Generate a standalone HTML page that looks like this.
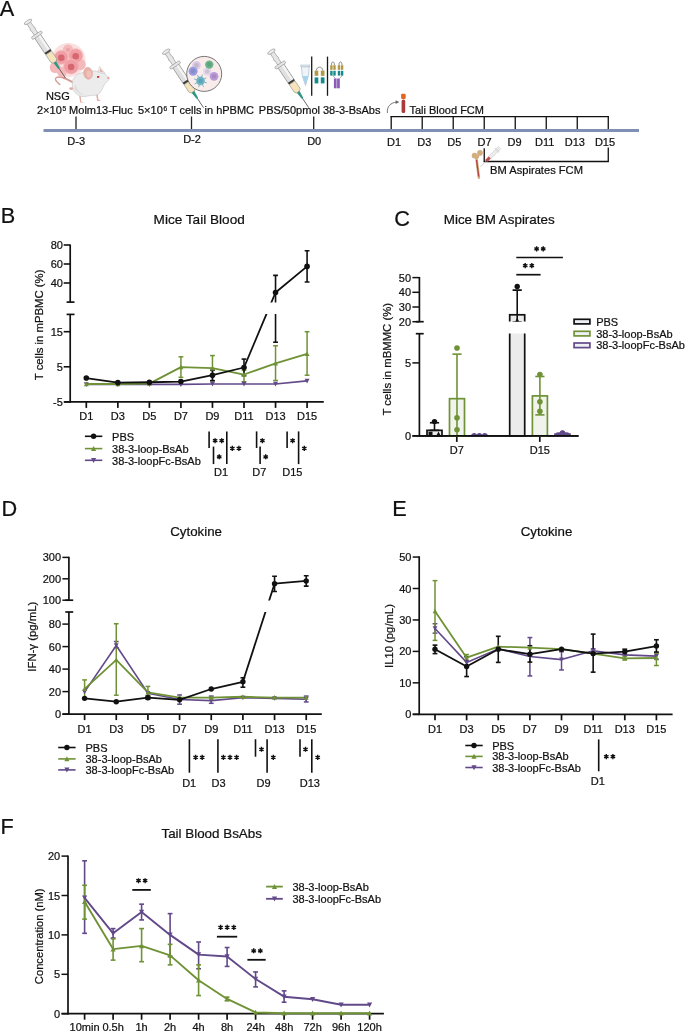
<!DOCTYPE html><html><head><meta charset="utf-8"><style>html,body{margin:0;padding:0;background:#fff;overflow:hidden;}svg{display:block;will-change:transform;} text{font-family:"Liberation Sans", sans-serif;}</style></head><body>
<svg width="685" height="1032" viewBox="0 0 685 1032">
<rect width="685" height="1032" fill="#fff"/>
<text x="-0.3" y="15.6" font-size="21.7" text-anchor="start" fill="#111111" stroke="#111111" stroke-width="0.22">A</text>
<line x1="43.5" y1="130.5" x2="639" y2="130.5" stroke="#8090b4" stroke-width="3"/>
<line x1="76" y1="116.5" x2="76" y2="129" stroke="#222" stroke-width="1.3"/>
<line x1="191.5" y1="116.5" x2="191.5" y2="129" stroke="#222" stroke-width="1.3"/>
<line x1="313.7" y1="116.5" x2="313.7" y2="129" stroke="#222" stroke-width="1.3"/>
<text x="76.2" y="144.6" font-size="11" text-anchor="middle" fill="#111111" stroke="#111111" stroke-width="0.22">D-3</text>
<text x="192" y="143.4" font-size="11" text-anchor="middle" fill="#111111" stroke="#111111" stroke-width="0.22">D-2</text>
<text x="314.2" y="145.3" font-size="11" text-anchor="middle" fill="#111111" stroke="#111111" stroke-width="0.22">D0</text>
<text x="57.8" y="99.7" font-size="11" text-anchor="middle" fill="#111111" stroke="#111111" stroke-width="0.22">NSG</text>
<text x="37" y="114.1" font-size="11" fill="#111111" stroke="#111" stroke-width="0.22">2×10<tspan font-size="6.6" dx="0.6" dy="-3.0">5</tspan><tspan dy="3.0"> Molm13-Fluc</tspan></text>
<text x="138" y="114.1" font-size="11" fill="#111111" stroke="#111" stroke-width="0.22">5×10<tspan font-size="6.6" dx="0.6" dy="-3.0">6</tspan><tspan dy="3.0"> T cells in hPBMC</tspan></text>
<text x="258.8" y="114.1" font-size="11" text-anchor="start" fill="#111111" stroke="#111111" stroke-width="0.22">PBS/50pmol 38-3-BsAbs</text>
<line x1="390.6" y1="116.7" x2="608.87" y2="116.7" stroke="#111111" stroke-width="1.3"/>
<line x1="391.2" y1="116.1" x2="391.2" y2="129" stroke="#111111" stroke-width="1.3"/>
<line x1="422.21" y1="116.1" x2="422.21" y2="129" stroke="#111111" stroke-width="1.3"/>
<line x1="453.22" y1="116.1" x2="453.22" y2="129" stroke="#111111" stroke-width="1.3"/>
<line x1="484.23" y1="116.1" x2="484.23" y2="129" stroke="#111111" stroke-width="1.3"/>
<line x1="515.24" y1="116.1" x2="515.24" y2="129" stroke="#111111" stroke-width="1.3"/>
<line x1="546.25" y1="116.1" x2="546.25" y2="129" stroke="#111111" stroke-width="1.3"/>
<line x1="577.26" y1="116.1" x2="577.26" y2="129" stroke="#111111" stroke-width="1.3"/>
<line x1="608.27" y1="116.1" x2="608.27" y2="129" stroke="#111111" stroke-width="1.3"/>
<text x="394.1" y="145.9" font-size="11" text-anchor="middle" fill="#111111" stroke="#111111" stroke-width="0.22">D1</text>
<text x="424.23" y="145.9" font-size="11" text-anchor="middle" fill="#111111" stroke="#111111" stroke-width="0.22">D3</text>
<text x="454.36" y="145.9" font-size="11" text-anchor="middle" fill="#111111" stroke="#111111" stroke-width="0.22">D5</text>
<text x="484.49" y="145.9" font-size="11" text-anchor="middle" fill="#111111" stroke="#111111" stroke-width="0.22">D7</text>
<text x="514.62" y="145.9" font-size="11" text-anchor="middle" fill="#111111" stroke="#111111" stroke-width="0.22">D9</text>
<text x="544.75" y="145.9" font-size="11" text-anchor="middle" fill="#111111" stroke="#111111" stroke-width="0.22">D11</text>
<text x="574.88" y="145.9" font-size="11" text-anchor="middle" fill="#111111" stroke="#111111" stroke-width="0.22">D13</text>
<text x="605.01" y="145.9" font-size="11" text-anchor="middle" fill="#111111" stroke="#111111" stroke-width="0.22">D15</text>
<text x="409.4" y="113.5" font-size="11" text-anchor="start" fill="#111111" stroke="#111111" stroke-width="0.22">Tali Blood FCM</text>
<line x1="484.23" y1="148.2" x2="484.23" y2="161.5" stroke="#111111" stroke-width="1.3"/>
<line x1="483.63" y1="161.5" x2="608.87" y2="161.5" stroke="#111111" stroke-width="1.3"/>
<line x1="608.27" y1="147.5" x2="608.27" y2="161.5" stroke="#111111" stroke-width="1.3"/>
<text x="490.1" y="173.6" font-size="11.15" text-anchor="start" fill="#111111" stroke="#111111" stroke-width="0.22">BM Aspirates FCM</text>
<rect x="401.6" y="99.6" width="3.6" height="13.4" rx="1.6" fill="#a93b3b"/>
<rect x="401.1" y="93.7" width="4.6" height="5.2" rx="1.2" fill="#e2661f"/>
<path d="M387.4 113 C386.8 106.5 390.5 102.6 396.8 102.2" fill="none" stroke="#666" stroke-width="0.9"/>
<path d="M395.6 100.2 L399.3 102.1 L395.7 104.0 Z" fill="#666"/>
<path d="M476.3 157.5 L478.9 177.6" stroke="#d3ad7f" stroke-width="2.6" stroke-linecap="round"/>
<path d="M476.6 160 L478.7 176.5" stroke="#b0453f" stroke-width="1.3"/>
<circle cx="474.6" cy="155.6" r="2.9" fill="#d3ad7f"/>
<circle cx="480.0" cy="152.9" r="2.8" fill="#d3ad7f"/>
<circle cx="477.0" cy="156.5" r="2.2" fill="#d3ad7f"/>
<g transform="translate(499.6 147.6) rotate(135)">
<rect x="0" y="-1.6" width="14" height="3.2" fill="#ececec" stroke="#c4c4c4" stroke-width="0.5"/>
<rect x="3" y="-2.6" width="1.2" height="5.2" fill="#e4e4e4" stroke="#c4c4c4" stroke-width="0.4"/>
<rect x="14" y="-1.5" width="5" height="3" fill="#bf4a4a"/>
<line x1="19" y1="0" x2="27" y2="0" stroke="#b8b8b8" stroke-width="0.7"/>
</g>
<g>
<circle cx="68.5" cy="60" r="17" fill="#fbe0e0"/>
<circle cx="68" cy="49.7" r="5.2" fill="#f4b9bb"/>
<circle cx="55.2" cy="67.5" r="5.5" fill="#f4b9bb"/>
<circle cx="80.3" cy="64.5" r="5.5" fill="#f4b9bb"/>
<circle cx="62" cy="72" r="5" fill="#f4b9bb"/>
<circle cx="61.3" cy="57.4" r="6.8" fill="#f09ea3" stroke="#f6b5b7" stroke-width="0.8"/>
<circle cx="61.3" cy="57.8" r="3.3" fill="#d6666f"/>
<circle cx="75.7" cy="55.8" r="7.0" fill="#f09ea3" stroke="#f6b5b7" stroke-width="0.8"/>
<circle cx="75.7" cy="56.199999999999996" r="3.3" fill="#d6666f"/>
<circle cx="71.1" cy="66.6" r="7.4" fill="#f09ea3" stroke="#f6b5b7" stroke-width="0.8"/>
<circle cx="71.1" cy="67.0" r="3.3" fill="#d6666f"/>
<circle cx="68" cy="49.7" r="2" fill="#e8a3a8"/>
</g>
<g>
<path d="M73.5 82.5 C69 80.5 66.5 79 63.5 77.8" fill="none" stroke="#d59d96" stroke-width="2" stroke-linecap="round"/>
<path d="M63.5 77.8 C60 76.8 56.5 76.5 55.5 78.5 C54.8 80.5 57.5 82.5 59.8 84.5" fill="none" stroke="#d59d96" stroke-width="1.4" stroke-linecap="round"/>
<ellipse cx="71.4" cy="88.6" rx="2.3" ry="1.4" fill="#e3aaa3"/>
<path d="M97.6 93 L98.4 99.6 L101.2 100.8 L97.2 100.9 L96.2 95 Z" fill="#e3aaa3"/>
<path d="M80.6 95.5 L81.2 101.4 L84.5 102.4 L80.2 102.6 L79.2 96 Z" fill="#e3aaa3"/>
<path d="M72.3 84.1 C72.5 78 76 74.5 80 73.3 C84 72 90 70.6 94.2 71 C99 71 104 73 106.5 75.5 L108.9 77.9 C109 79.5 108.5 80.5 107.5 81 C106 82.5 104.5 84 103.5 86 C102.5 89 101 92 98.6 94.3 C96 95.5 93 95.5 91.3 95.4 C87 96.2 84 96.8 81.8 96.5 C78 95.5 75 93.5 73.8 90.7 C72.8 88.5 72.3 86.5 72.3 84.1 Z" fill="#ececec" stroke="#c4c4c4" stroke-width="0.6"/>
<path d="M74 88 C76 92 80 95 86 95.5 C80 93.5 77 90 75.5 84 Z" fill="#dedede"/>
<path d="M98.2 72.4 L99.4 66.2 L105.4 73.6 Z" fill="#f2f2f2" stroke="#c4c4c4" stroke-width="0.5"/>
<path d="M99.6 71.8 L100.2 68.2 L103.6 72.6 Z" fill="#e6b0a8"/>
<ellipse cx="88.1" cy="73.3" rx="4.5" ry="6.0" fill="#e8b1a9" stroke="#dba39b" stroke-width="0.4" transform="rotate(-8 88.1 73.3)"/>
<ellipse cx="89.0" cy="74" rx="2.4" ry="3.6" fill="#efc2bb" transform="rotate(-8 89 74)"/>
<ellipse cx="98.2" cy="76.9" rx="1.3" ry="0.9" fill="#c3262e" transform="rotate(-20 98.2 76.9)"/>
<circle cx="108.3" cy="77.9" r="1.2" fill="#e8a9a4"/>
</g>
<g transform="translate(28 21.9) rotate(56.3) scale(1)">
<line x1="54" y1="0" x2="67.3" y2="0" stroke="#4a4a4a" stroke-width="0.75"/>
<path d="M47.5 -1.7 L56 -0.9 L56 0.9 L47.5 1.7 Z" fill="#2f9882"/>
<path d="M0.5 -2.1 L7 -2.1 L8.5 -2.8 L10 -2.1 L17 -2.1 L17 2.1 L10 2.1 L8.5 2.8 L7 2.1 L0.5 2.1 Z" fill="#e6e6e6" stroke="#8a8a8a" stroke-width="0.55"/>
<rect x="16.5" y="-3.5" width="19.5" height="7" fill="#e0e0e0" stroke="#7a7a7a" stroke-width="0.6"/>
<rect x="17" y="-2.9" width="18.5" height="2.2" fill="#f4f4f4"/>
<rect x="35" y="-3.5" width="2.3" height="7" fill="#3c3c3c"/>
<path d="M37.3 -3.5 L46.3 -3.5 L48.3 -2.0 L48.3 2.0 L46.3 3.5 L37.3 3.5 Z" fill="#f4e3bb" stroke="#8a8a8a" stroke-width="0.55"/>
<rect x="14.6" y="-6.0" width="2.8" height="12" rx="1.2" fill="#e6e6e6" stroke="#8a8a8a" stroke-width="0.55"/>
<ellipse cx="0" cy="0" rx="1.6" ry="4.3" fill="#ececec" stroke="#8a8a8a" stroke-width="0.55"/>
</g>
<g transform="translate(166.2 51.7) rotate(56.3) scale(1)">
<line x1="54" y1="0" x2="67.3" y2="0" stroke="#4a4a4a" stroke-width="0.75"/>
<path d="M47.5 -1.7 L56 -0.9 L56 0.9 L47.5 1.7 Z" fill="#2f9882"/>
<path d="M0.5 -2.1 L7 -2.1 L8.5 -2.8 L10 -2.1 L17 -2.1 L17 2.1 L10 2.1 L8.5 2.8 L7 2.1 L0.5 2.1 Z" fill="#e6e6e6" stroke="#8a8a8a" stroke-width="0.55"/>
<rect x="16.5" y="-3.5" width="19.5" height="7" fill="#e0e0e0" stroke="#7a7a7a" stroke-width="0.6"/>
<rect x="17" y="-2.9" width="18.5" height="2.2" fill="#f4f4f4"/>
<rect x="35" y="-3.5" width="2.3" height="7" fill="#3c3c3c"/>
<path d="M37.3 -3.5 L46.3 -3.5 L48.3 -2.0 L48.3 2.0 L46.3 3.5 L37.3 3.5 Z" fill="#f4e3bb" stroke="#8a8a8a" stroke-width="0.55"/>
<rect x="14.6" y="-6.0" width="2.8" height="12" rx="1.2" fill="#e6e6e6" stroke="#8a8a8a" stroke-width="0.55"/>
<ellipse cx="0" cy="0" rx="1.6" ry="4.3" fill="#ececec" stroke="#8a8a8a" stroke-width="0.55"/>
</g>
<g transform="translate(271.4 51.7) rotate(56.3) scale(1)">
<line x1="54" y1="0" x2="67.3" y2="0" stroke="#4a4a4a" stroke-width="0.75"/>
<path d="M47.5 -1.7 L56 -0.9 L56 0.9 L47.5 1.7 Z" fill="#2f9882"/>
<path d="M0.5 -2.1 L7 -2.1 L8.5 -2.8 L10 -2.1 L17 -2.1 L17 2.1 L10 2.1 L8.5 2.8 L7 2.1 L0.5 2.1 Z" fill="#e6e6e6" stroke="#8a8a8a" stroke-width="0.55"/>
<rect x="16.5" y="-3.5" width="19.5" height="7" fill="#e0e0e0" stroke="#7a7a7a" stroke-width="0.6"/>
<rect x="17" y="-2.9" width="18.5" height="2.2" fill="#f4f4f4"/>
<rect x="35" y="-3.5" width="2.3" height="7" fill="#3c3c3c"/>
<path d="M37.3 -3.5 L46.3 -3.5 L48.3 -2.0 L48.3 2.0 L46.3 3.5 L37.3 3.5 Z" fill="#f4e3bb" stroke="#8a8a8a" stroke-width="0.55"/>
<rect x="14.6" y="-6.0" width="2.8" height="12" rx="1.2" fill="#e6e6e6" stroke="#8a8a8a" stroke-width="0.55"/>
<ellipse cx="0" cy="0" rx="1.6" ry="4.3" fill="#ececec" stroke="#8a8a8a" stroke-width="0.55"/>
</g>
<circle cx="204.2" cy="73.9" r="17.5" fill="#fbecec" stroke="#555" stroke-width="0.8"/>
<circle cx="196.5" cy="65.3" r="4.3" fill="#dccbe6"/>
<circle cx="196.5" cy="65.3" r="2.365" fill="#000000" opacity="0.1" />
<circle cx="207.2" cy="71.5" r="4.2" fill="#e4d8ec"/>
<circle cx="207.2" cy="71.5" r="2.3100000000000005" fill="#000000" opacity="0.1" />
<circle cx="193.1" cy="71.2" r="4.5" fill="#979de0"/>
<circle cx="193.1" cy="71.2" r="2.475" fill="#000000" opacity="0.1" />
<circle cx="209.3" cy="64.6" r="4.2" fill="#6ab589"/>
<circle cx="209.3" cy="64.6" r="2.3100000000000005" fill="#000000" opacity="0.1" />
<circle cx="214.0" cy="76.3" r="4.4" fill="#bb9bd8"/>
<circle cx="214.0" cy="76.3" r="2.4200000000000004" fill="#000000" opacity="0.1" />
<g stroke="#4f93a8" stroke-width="0.7">
<line x1="204.32" y1="82.08" x2="206.81" y2="82.85"/>
<line x1="202.37" y1="84.44" x2="203.58" y2="86.74"/>
<line x1="199.32" y1="84.72" x2="198.55" y2="87.21"/>
<line x1="196.96" y1="82.77" x2="194.66" y2="83.98"/>
<line x1="196.68" y1="79.72" x2="194.19" y2="78.95"/>
<line x1="198.63" y1="77.36" x2="197.42" y2="75.06"/>
<line x1="201.68" y1="77.08" x2="202.45" y2="74.59"/>
<line x1="204.04" y1="79.03" x2="206.34" y2="77.82"/>
</g>
<circle cx="200.5" cy="80.9" r="4.3" fill="#6db4c4"/>
<circle cx="200.5" cy="80.9" r="2.2" fill="#5aa3b5"/>
<path d="M301.4 66.8 L309.2 66.8 L308.6 75 L305.5 85.5 L302.2 75 Z" fill="#eef4f8" stroke="#9fb4c0" stroke-width="0.6"/>
<path d="M301.9 76 L308.4 76 L305.5 85 Z" fill="#a9d3ea"/>
<rect x="300.8" y="65.0" width="9" height="1.8" fill="#e4eef4" stroke="#9fb4c0" stroke-width="0.5"/>
<line x1="311.7" y1="56.6" x2="311.7" y2="95.8" stroke="#1a1a1a" stroke-width="1.3"/>
<line x1="327.5" y1="56.6" x2="327.5" y2="95.8" stroke="#1a1a1a" stroke-width="1.3"/>
<path d="M316.4 70.6 C316.4 66 322.8 66 322.8 70.6" fill="none" stroke="#444" stroke-width="0.6"/>
<rect x="314.6" y="70.6" width="3.7" height="5.2" fill="#b19a45"/>
<rect x="314.6" y="77.4" width="3.7" height="6.0" fill="#16898a"/>
<rect x="320.8" y="70.6" width="3.7" height="5.2" fill="#b19a45"/>
<rect x="320.8" y="77.4" width="3.7" height="6.0" fill="#16898a"/>
<path d="M331.4 65.2 C331.4 60.7 334.4 60.7 334.4 65.2" fill="none" stroke="#444" stroke-width="0.6"/>
<rect x="330.2" y="65.2" width="2.4" height="4.6" fill="#b19a45"/>
<rect x="330.2" y="70.8" width="2.4" height="4.8" fill="#16898a"/>
<rect x="333.3" y="65.2" width="2.4" height="4.6" fill="#b19a45"/>
<rect x="333.3" y="70.8" width="2.4" height="4.8" fill="#16898a"/>
<path d="M339 65.2 C339 60.7 342 60.7 342 65.2" fill="none" stroke="#444" stroke-width="0.6"/>
<rect x="337.8" y="65.2" width="2.4" height="4.6" fill="#b19a45"/>
<rect x="337.8" y="70.8" width="2.4" height="4.8" fill="#16898a"/>
<rect x="340.9" y="65.2" width="2.4" height="4.6" fill="#b19a45"/>
<rect x="340.9" y="70.8" width="2.4" height="4.8" fill="#16898a"/>
<path d="M333 75.6 L335.2 78.5 M342.2 75.6 L339.4 78.5" stroke="#555" stroke-width="0.5"/>
<rect x="333.9" y="78.5" width="2.7" height="9.8" fill="#8a5cb8"/>
<rect x="337.1" y="78.5" width="2.7" height="9.8" fill="#8a5cb8"/>
<text x="0.8" y="222.8" font-size="21.7" text-anchor="start" fill="#111111" stroke="#111111" stroke-width="0.22">B</text>
<text x="199.2" y="224.4" font-size="13.6" text-anchor="middle" fill="#111111" stroke="#111111" stroke-width="0.22">Mice Tail Blood</text>
<line x1="70.2" y1="244.5" x2="70.2" y2="302.2" stroke="#111111" stroke-width="1.7"/>
<line x1="70.2" y1="314.3" x2="70.2" y2="402.7" stroke="#111111" stroke-width="1.7"/>
<line x1="66.6" y1="302.1" x2="74.5" y2="302.1" stroke="#111111" stroke-width="1.7"/>
<line x1="66.6" y1="314.4" x2="74.5" y2="314.4" stroke="#111111" stroke-width="1.7"/>
<line x1="63.7" y1="245" x2="70.2" y2="245" stroke="#111111" stroke-width="1.6"/>
<text x="62.9" y="248.8" font-size="11" text-anchor="end" fill="#111111" stroke="#111111" stroke-width="0.22">80</text>
<line x1="63.7" y1="264" x2="70.2" y2="264" stroke="#111111" stroke-width="1.6"/>
<text x="62.9" y="267.8" font-size="11" text-anchor="end" fill="#111111" stroke="#111111" stroke-width="0.22">60</text>
<line x1="63.7" y1="283" x2="70.2" y2="283" stroke="#111111" stroke-width="1.6"/>
<text x="62.9" y="286.8" font-size="11" text-anchor="end" fill="#111111" stroke="#111111" stroke-width="0.22">40</text>
<line x1="63.7" y1="331.7" x2="70.2" y2="331.7" stroke="#111111" stroke-width="1.6"/>
<text x="62.9" y="335.5" font-size="11" text-anchor="end" fill="#111111" stroke="#111111" stroke-width="0.22">15</text>
<line x1="63.7" y1="366.8" x2="70.2" y2="366.8" stroke="#111111" stroke-width="1.6"/>
<text x="62.9" y="370.6" font-size="11" text-anchor="end" fill="#111111" stroke="#111111" stroke-width="0.22">5</text>
<line x1="63.7" y1="401.9" x2="70.2" y2="401.9" stroke="#111111" stroke-width="1.6"/>
<text x="62.9" y="405.7" font-size="11" text-anchor="end" fill="#111111" stroke="#111111" stroke-width="0.22">-5</text>
<line x1="64.2" y1="401.9" x2="323.8" y2="401.9" stroke="#111111" stroke-width="1.7"/>
<line x1="86.3" y1="401.9" x2="86.3" y2="407.9" stroke="#111111" stroke-width="1.7"/>
<text x="86.3" y="420.2" font-size="11" text-anchor="middle" fill="#111111" stroke="#111111" stroke-width="0.22">D1</text>
<line x1="117.84" y1="401.9" x2="117.84" y2="407.9" stroke="#111111" stroke-width="1.7"/>
<text x="117.84" y="420.2" font-size="11" text-anchor="middle" fill="#111111" stroke="#111111" stroke-width="0.22">D3</text>
<line x1="149.38" y1="401.9" x2="149.38" y2="407.9" stroke="#111111" stroke-width="1.7"/>
<text x="149.38" y="420.2" font-size="11" text-anchor="middle" fill="#111111" stroke="#111111" stroke-width="0.22">D5</text>
<line x1="180.92" y1="401.9" x2="180.92" y2="407.9" stroke="#111111" stroke-width="1.7"/>
<text x="180.92" y="420.2" font-size="11" text-anchor="middle" fill="#111111" stroke="#111111" stroke-width="0.22">D7</text>
<line x1="212.46" y1="401.9" x2="212.46" y2="407.9" stroke="#111111" stroke-width="1.7"/>
<text x="212.46" y="420.2" font-size="11" text-anchor="middle" fill="#111111" stroke="#111111" stroke-width="0.22">D9</text>
<line x1="244" y1="401.9" x2="244" y2="407.9" stroke="#111111" stroke-width="1.7"/>
<text x="244" y="420.2" font-size="11" text-anchor="middle" fill="#111111" stroke="#111111" stroke-width="0.22">D11</text>
<line x1="275.54" y1="401.9" x2="275.54" y2="407.9" stroke="#111111" stroke-width="1.7"/>
<text x="275.54" y="420.2" font-size="11" text-anchor="middle" fill="#111111" stroke="#111111" stroke-width="0.22">D13</text>
<line x1="307.08" y1="401.9" x2="307.08" y2="407.9" stroke="#111111" stroke-width="1.7"/>
<text x="307.08" y="420.2" font-size="11" text-anchor="middle" fill="#111111" stroke="#111111" stroke-width="0.22">D15</text>
<text x="43.3" y="324.9" font-size="11.35" text-anchor="middle" fill="#111111" stroke="#111111" stroke-width="0.22" transform="rotate(-90 43.3 324.9)">T cells in mPBMC (%)</text>
<defs><clipPath id="bU"><rect x="71" y="230" width="260" height="72.5"/></clipPath><clipPath id="bL"><rect x="71" y="313.9" width="260" height="100"/></clipPath></defs>
<g clip-path="url(#bU)">
<line x1="180.92" y1="356.8" x2="180.92" y2="377.33" stroke="#6f9236" stroke-width="1.5"/>
<line x1="178.52" y1="356.8" x2="183.32" y2="356.8" stroke="#6f9236" stroke-width="1.5"/>
<line x1="178.52" y1="377.33" x2="183.32" y2="377.33" stroke="#6f9236" stroke-width="1.5"/>
<line x1="212.46" y1="355.57" x2="212.46" y2="380.84" stroke="#6f9236" stroke-width="1.5"/>
<line x1="210.06" y1="355.57" x2="214.86" y2="355.57" stroke="#6f9236" stroke-width="1.5"/>
<line x1="210.06" y1="380.84" x2="214.86" y2="380.84" stroke="#6f9236" stroke-width="1.5"/>
<line x1="244" y1="370.31" x2="244" y2="381.72" stroke="#6f9236" stroke-width="1.5"/>
<line x1="241.6" y1="370.31" x2="246.4" y2="370.31" stroke="#6f9236" stroke-width="1.5"/>
<line x1="241.6" y1="381.72" x2="246.4" y2="381.72" stroke="#6f9236" stroke-width="1.5"/>
<line x1="275.54" y1="345.74" x2="275.54" y2="380.49" stroke="#6f9236" stroke-width="1.5"/>
<line x1="273.14" y1="345.74" x2="277.94" y2="345.74" stroke="#6f9236" stroke-width="1.5"/>
<line x1="273.14" y1="380.49" x2="277.94" y2="380.49" stroke="#6f9236" stroke-width="1.5"/>
<line x1="307.08" y1="331.7" x2="307.08" y2="375.22" stroke="#6f9236" stroke-width="1.5"/>
<line x1="304.68" y1="331.7" x2="309.48" y2="331.7" stroke="#6f9236" stroke-width="1.5"/>
<line x1="304.68" y1="375.22" x2="309.48" y2="375.22" stroke="#6f9236" stroke-width="1.5"/>
<line x1="212.46" y1="370.31" x2="212.46" y2="380.66" stroke="#111111" stroke-width="1.6"/>
<line x1="210.06" y1="370.31" x2="214.86" y2="370.31" stroke="#111111" stroke-width="1.6"/>
<line x1="210.06" y1="380.66" x2="214.86" y2="380.66" stroke="#111111" stroke-width="1.6"/>
<line x1="244" y1="359.08" x2="244" y2="375.57" stroke="#111111" stroke-width="1.6"/>
<line x1="241.6" y1="359.08" x2="246.4" y2="359.08" stroke="#111111" stroke-width="1.6"/>
<line x1="241.6" y1="375.57" x2="246.4" y2="375.57" stroke="#111111" stroke-width="1.6"/>
<line x1="275.54" y1="275.4" x2="275.54" y2="342.23" stroke="#111111" stroke-width="1.6"/>
<line x1="273.14" y1="275.4" x2="277.94" y2="275.4" stroke="#111111" stroke-width="1.6"/>
<line x1="273.14" y1="342.23" x2="277.94" y2="342.23" stroke="#111111" stroke-width="1.6"/>
<line x1="307.08" y1="250.7" x2="307.08" y2="282.05" stroke="#111111" stroke-width="1.6"/>
<line x1="304.68" y1="250.7" x2="309.48" y2="250.7" stroke="#111111" stroke-width="1.6"/>
<line x1="304.68" y1="282.05" x2="309.48" y2="282.05" stroke="#111111" stroke-width="1.6"/>
<polyline points="86.3,384.35 117.84,384.35 149.38,384.35 180.92,384.35 212.46,384 244,384 275.54,384 307.08,380.84" fill="none" stroke="#62498a" stroke-width="1.6" stroke-linejoin="round"/>
<polyline points="86.3,384 117.84,384 149.38,383.65 180.92,367.15 212.46,368.2 244,374.52 275.54,363.29 307.08,353.81" fill="none" stroke="#6f9236" stroke-width="1.8" stroke-linejoin="round"/>
<polyline points="86.3,378.03 117.84,382.6 149.38,382.24 180.92,381.54 212.46,375.22 244,367.5 275.54,292.5 307.08,266.38" fill="none" stroke="#111111" stroke-width="1.8" stroke-linejoin="round"/>
<polygon points="86.3,386.95 83.83,382.14 88.77,382.14" fill="#62498a"/>
<polygon points="117.84,386.95 115.37,382.14 120.31,382.14" fill="#62498a"/>
<polygon points="149.38,386.95 146.91,382.14 151.85,382.14" fill="#62498a"/>
<polygon points="180.92,386.95 178.45,382.14 183.39,382.14" fill="#62498a"/>
<polygon points="212.46,386.6 209.99,381.79 214.93,381.79" fill="#62498a"/>
<polygon points="244,386.6 241.53,381.79 246.47,381.79" fill="#62498a"/>
<polygon points="275.54,386.6 273.07,381.79 278.01,381.79" fill="#62498a"/>
<polygon points="307.08,383.44 304.61,378.63 309.55,378.63" fill="#62498a"/>
<polygon points="86.3,381.4 83.83,386.21 88.77,386.21" fill="#6f9236"/>
<polygon points="117.84,381.4 115.37,386.21 120.31,386.21" fill="#6f9236"/>
<polygon points="149.38,381.05 146.91,385.86 151.85,385.86" fill="#6f9236"/>
<polygon points="180.92,364.55 178.45,369.36 183.39,369.36" fill="#6f9236"/>
<polygon points="212.46,365.6 209.99,370.41 214.93,370.41" fill="#6f9236"/>
<polygon points="244,371.92 241.53,376.73 246.47,376.73" fill="#6f9236"/>
<polygon points="275.54,360.69 273.07,365.5 278.01,365.5" fill="#6f9236"/>
<polygon points="307.08,351.21 304.61,356.02 309.55,356.02" fill="#6f9236"/>
<circle cx="86.3" cy="378.03" r="2.8" fill="#111111"/>
<circle cx="117.84" cy="382.6" r="2.8" fill="#111111"/>
<circle cx="149.38" cy="382.24" r="2.8" fill="#111111"/>
<circle cx="180.92" cy="381.54" r="2.8" fill="#111111"/>
<circle cx="212.46" cy="375.22" r="2.8" fill="#111111"/>
<circle cx="244" cy="367.5" r="2.8" fill="#111111"/>
<circle cx="275.54" cy="292.5" r="2.8" fill="#111111"/>
<circle cx="307.08" cy="266.38" r="2.8" fill="#111111"/>
</g>
<g clip-path="url(#bL)">
<line x1="180.92" y1="356.8" x2="180.92" y2="377.33" stroke="#6f9236" stroke-width="1.5"/>
<line x1="178.52" y1="356.8" x2="183.32" y2="356.8" stroke="#6f9236" stroke-width="1.5"/>
<line x1="178.52" y1="377.33" x2="183.32" y2="377.33" stroke="#6f9236" stroke-width="1.5"/>
<line x1="212.46" y1="355.57" x2="212.46" y2="380.84" stroke="#6f9236" stroke-width="1.5"/>
<line x1="210.06" y1="355.57" x2="214.86" y2="355.57" stroke="#6f9236" stroke-width="1.5"/>
<line x1="210.06" y1="380.84" x2="214.86" y2="380.84" stroke="#6f9236" stroke-width="1.5"/>
<line x1="244" y1="370.31" x2="244" y2="381.72" stroke="#6f9236" stroke-width="1.5"/>
<line x1="241.6" y1="370.31" x2="246.4" y2="370.31" stroke="#6f9236" stroke-width="1.5"/>
<line x1="241.6" y1="381.72" x2="246.4" y2="381.72" stroke="#6f9236" stroke-width="1.5"/>
<line x1="275.54" y1="345.74" x2="275.54" y2="380.49" stroke="#6f9236" stroke-width="1.5"/>
<line x1="273.14" y1="345.74" x2="277.94" y2="345.74" stroke="#6f9236" stroke-width="1.5"/>
<line x1="273.14" y1="380.49" x2="277.94" y2="380.49" stroke="#6f9236" stroke-width="1.5"/>
<line x1="307.08" y1="331.7" x2="307.08" y2="375.22" stroke="#6f9236" stroke-width="1.5"/>
<line x1="304.68" y1="331.7" x2="309.48" y2="331.7" stroke="#6f9236" stroke-width="1.5"/>
<line x1="304.68" y1="375.22" x2="309.48" y2="375.22" stroke="#6f9236" stroke-width="1.5"/>
<line x1="212.46" y1="370.31" x2="212.46" y2="380.66" stroke="#111111" stroke-width="1.6"/>
<line x1="210.06" y1="370.31" x2="214.86" y2="370.31" stroke="#111111" stroke-width="1.6"/>
<line x1="210.06" y1="380.66" x2="214.86" y2="380.66" stroke="#111111" stroke-width="1.6"/>
<line x1="244" y1="359.08" x2="244" y2="375.57" stroke="#111111" stroke-width="1.6"/>
<line x1="241.6" y1="359.08" x2="246.4" y2="359.08" stroke="#111111" stroke-width="1.6"/>
<line x1="241.6" y1="375.57" x2="246.4" y2="375.57" stroke="#111111" stroke-width="1.6"/>
<line x1="275.54" y1="275.4" x2="275.54" y2="342.23" stroke="#111111" stroke-width="1.6"/>
<line x1="273.14" y1="275.4" x2="277.94" y2="275.4" stroke="#111111" stroke-width="1.6"/>
<line x1="273.14" y1="342.23" x2="277.94" y2="342.23" stroke="#111111" stroke-width="1.6"/>
<line x1="307.08" y1="250.7" x2="307.08" y2="282.05" stroke="#111111" stroke-width="1.6"/>
<line x1="304.68" y1="250.7" x2="309.48" y2="250.7" stroke="#111111" stroke-width="1.6"/>
<line x1="304.68" y1="282.05" x2="309.48" y2="282.05" stroke="#111111" stroke-width="1.6"/>
<polyline points="86.3,384.35 117.84,384.35 149.38,384.35 180.92,384.35 212.46,384 244,384 275.54,384 307.08,380.84" fill="none" stroke="#62498a" stroke-width="1.6" stroke-linejoin="round"/>
<polyline points="86.3,384 117.84,384 149.38,383.65 180.92,367.15 212.46,368.2 244,374.52 275.54,363.29 307.08,353.81" fill="none" stroke="#6f9236" stroke-width="1.8" stroke-linejoin="round"/>
<polyline points="86.3,378.03 117.84,382.6 149.38,382.24 180.92,381.54 212.46,375.22 244,367.5 275.54,292.5 307.08,266.38" fill="none" stroke="#111111" stroke-width="1.8" stroke-linejoin="round"/>
<polygon points="86.3,386.95 83.83,382.14 88.77,382.14" fill="#62498a"/>
<polygon points="117.84,386.95 115.37,382.14 120.31,382.14" fill="#62498a"/>
<polygon points="149.38,386.95 146.91,382.14 151.85,382.14" fill="#62498a"/>
<polygon points="180.92,386.95 178.45,382.14 183.39,382.14" fill="#62498a"/>
<polygon points="212.46,386.6 209.99,381.79 214.93,381.79" fill="#62498a"/>
<polygon points="244,386.6 241.53,381.79 246.47,381.79" fill="#62498a"/>
<polygon points="275.54,386.6 273.07,381.79 278.01,381.79" fill="#62498a"/>
<polygon points="307.08,383.44 304.61,378.63 309.55,378.63" fill="#62498a"/>
<polygon points="86.3,381.4 83.83,386.21 88.77,386.21" fill="#6f9236"/>
<polygon points="117.84,381.4 115.37,386.21 120.31,386.21" fill="#6f9236"/>
<polygon points="149.38,381.05 146.91,385.86 151.85,385.86" fill="#6f9236"/>
<polygon points="180.92,364.55 178.45,369.36 183.39,369.36" fill="#6f9236"/>
<polygon points="212.46,365.6 209.99,370.41 214.93,370.41" fill="#6f9236"/>
<polygon points="244,371.92 241.53,376.73 246.47,376.73" fill="#6f9236"/>
<polygon points="275.54,360.69 273.07,365.5 278.01,365.5" fill="#6f9236"/>
<polygon points="307.08,351.21 304.61,356.02 309.55,356.02" fill="#6f9236"/>
<circle cx="86.3" cy="378.03" r="2.8" fill="#111111"/>
<circle cx="117.84" cy="382.6" r="2.8" fill="#111111"/>
<circle cx="149.38" cy="382.24" r="2.8" fill="#111111"/>
<circle cx="180.92" cy="381.54" r="2.8" fill="#111111"/>
<circle cx="212.46" cy="375.22" r="2.8" fill="#111111"/>
<circle cx="244" cy="367.5" r="2.8" fill="#111111"/>
<circle cx="275.54" cy="292.5" r="2.8" fill="#111111"/>
<circle cx="307.08" cy="266.38" r="2.8" fill="#111111"/>
</g>
<line x1="84.9" y1="436.3" x2="102.3" y2="436.3" stroke="#111111" stroke-width="1.6"/>
<circle cx="93.6" cy="436.3" r="2.7" fill="#111111"/>
<line x1="84.9" y1="448.6" x2="102.3" y2="448.6" stroke="#6f9236" stroke-width="1.6"/>
<polygon points="93.6,445.9 91.03,450.9 96.16,450.9" fill="#6f9236"/>
<line x1="84.9" y1="460.3" x2="102.3" y2="460.3" stroke="#62498a" stroke-width="1.6"/>
<polygon points="93.6,463 91.03,458 96.16,458" fill="#62498a"/>
<text x="112.1" y="441" font-size="11" text-anchor="start" fill="#111111" stroke="#111111" stroke-width="0.22">PBS</text>
<text x="112.1" y="453.2" font-size="11" text-anchor="start" fill="#111111" stroke="#111111" stroke-width="0.22">38-3-loop-BsAb</text>
<text x="112.1" y="464.9" font-size="11" text-anchor="start" fill="#111111" stroke="#111111" stroke-width="0.22">38-3-loopFc-BsAb</text>
<line x1="209.1" y1="431.4" x2="209.1" y2="448" stroke="#111111" stroke-width="1.6"/>
<line x1="213.5" y1="446.6" x2="213.5" y2="464.1" stroke="#111111" stroke-width="1.6"/>
<line x1="226.8" y1="431.4" x2="226.8" y2="464.1" stroke="#111111" stroke-width="1.6"/>
<path d="M215.1 438.15L215.1 443.25M212.89 439.43L217.31 441.97M217.31 439.43L212.89 441.97M221.7 438.15L221.7 443.25M219.49 439.43L223.91 441.97M223.91 439.43L219.49 441.97" stroke="#111111" stroke-width="1.4" stroke-linecap="butt"/>
<path d="M219.2 454.25L219.2 459.35M216.99 455.53L221.41 458.07M221.41 455.53L216.99 458.07" stroke="#111111" stroke-width="1.4" stroke-linecap="butt"/>
<path d="M232.3 445.85L232.3 450.95M230.09 447.12L234.51 449.67M234.51 447.12L230.09 449.67M238.9 445.85L238.9 450.95M236.69 447.12L241.11 449.67M241.11 447.12L236.69 449.67" stroke="#111111" stroke-width="1.4" stroke-linecap="butt"/>
<line x1="256.6" y1="431.4" x2="256.6" y2="448" stroke="#111111" stroke-width="1.6"/>
<line x1="260.1" y1="446.6" x2="260.1" y2="464.1" stroke="#111111" stroke-width="1.6"/>
<path d="M262.4 438.15L262.4 443.25M260.19 439.43L264.61 441.97M264.61 439.43L260.19 441.97" stroke="#111111" stroke-width="1.4" stroke-linecap="butt"/>
<path d="M265.7 454.25L265.7 459.35M263.49 455.53L267.91 458.07M267.91 455.53L263.49 458.07" stroke="#111111" stroke-width="1.4" stroke-linecap="butt"/>
<line x1="287.1" y1="431.4" x2="287.1" y2="448" stroke="#111111" stroke-width="1.6"/>
<line x1="298.6" y1="431.4" x2="298.6" y2="464.1" stroke="#111111" stroke-width="1.6"/>
<path d="M292.6 438.15L292.6 443.25M290.39 439.43L294.81 441.97M294.81 439.43L290.39 441.97" stroke="#111111" stroke-width="1.4" stroke-linecap="butt"/>
<path d="M304.3 445.85L304.3 450.95M302.09 447.12L306.51 449.67M306.51 447.12L302.09 449.67" stroke="#111111" stroke-width="1.4" stroke-linecap="butt"/>
<text x="221" y="475.8" font-size="11" text-anchor="middle" fill="#111111" stroke="#111111" stroke-width="0.22">D1</text>
<text x="259.4" y="475.8" font-size="11" text-anchor="middle" fill="#111111" stroke="#111111" stroke-width="0.22">D7</text>
<text x="292.4" y="475.8" font-size="11" text-anchor="middle" fill="#111111" stroke="#111111" stroke-width="0.22">D15</text>
<text x="394.3" y="225.6" font-size="21.7" text-anchor="start" fill="#111111" stroke="#111111" stroke-width="0.22">C</text>
<text x="499.2" y="224" font-size="13.4" text-anchor="middle" fill="#111111" stroke="#111111" stroke-width="0.22">Mice BM Aspirates</text>
<line x1="419.4" y1="277" x2="419.4" y2="321.8" stroke="#111111" stroke-width="1.7"/>
<line x1="419.4" y1="333.6" x2="419.4" y2="436.7" stroke="#111111" stroke-width="1.7"/>
<line x1="415.8" y1="321.7" x2="423.7" y2="321.7" stroke="#111111" stroke-width="1.7"/>
<line x1="415.8" y1="333.7" x2="423.7" y2="333.7" stroke="#111111" stroke-width="1.7"/>
<line x1="412.4" y1="277.6" x2="419.4" y2="277.6" stroke="#111111" stroke-width="1.5"/>
<text x="411.1" y="281.6" font-size="11" text-anchor="end" fill="#111111" stroke="#111111" stroke-width="0.22">50</text>
<line x1="412.4" y1="292.3" x2="419.4" y2="292.3" stroke="#111111" stroke-width="1.5"/>
<text x="411.1" y="296.3" font-size="11" text-anchor="end" fill="#111111" stroke="#111111" stroke-width="0.22">40</text>
<line x1="412.4" y1="307" x2="419.4" y2="307" stroke="#111111" stroke-width="1.5"/>
<text x="411.1" y="311" font-size="11" text-anchor="end" fill="#111111" stroke="#111111" stroke-width="0.22">30</text>
<line x1="412.4" y1="321.7" x2="419.4" y2="321.7" stroke="#111111" stroke-width="1.5"/>
<text x="411.1" y="325.7" font-size="11" text-anchor="end" fill="#111111" stroke="#111111" stroke-width="0.22">20</text>
<line x1="412.4" y1="362.9" x2="419.4" y2="362.9" stroke="#111111" stroke-width="1.5"/>
<text x="411.1" y="366.9" font-size="11" text-anchor="end" fill="#111111" stroke="#111111" stroke-width="0.22">5</text>
<line x1="412.4" y1="435.9" x2="419.4" y2="435.9" stroke="#111111" stroke-width="1.5"/>
<text x="411.1" y="439.9" font-size="11" text-anchor="end" fill="#111111" stroke="#111111" stroke-width="0.22">0</text>
<line x1="412.4" y1="435.9" x2="578.5" y2="435.9" stroke="#111111" stroke-width="1.7"/>
<line x1="456.8" y1="435.9" x2="456.8" y2="441.9" stroke="#111111" stroke-width="1.7"/>
<text x="456.8" y="454.3" font-size="11" text-anchor="middle" fill="#111111" stroke="#111111" stroke-width="0.22">D7</text>
<line x1="539.8" y1="435.9" x2="539.8" y2="441.9" stroke="#111111" stroke-width="1.7"/>
<text x="539.8" y="454.3" font-size="11" text-anchor="middle" fill="#111111" stroke="#111111" stroke-width="0.22">D15</text>
<text x="391.4" y="359.2" font-size="11.35" text-anchor="middle" fill="#111111" stroke="#111111" stroke-width="0.22" transform="rotate(-90 391.4 359.2)">T cells in mBMMC (%)</text>
<rect x="427" y="430.35" width="15" height="5.55" fill="#ececec" stroke="#111111" stroke-width="1.7"/>
<rect x="449.5" y="398.67" width="15" height="37.23" fill="#f1f4ec" stroke="#6f9236" stroke-width="1.7"/>
<rect x="471.9" y="435.46" width="15" height="0.44" fill="#f3f1f7" stroke="#62498a" stroke-width="1.7"/>
<defs><clipPath id="cU"><rect x="421" y="250" width="170" height="71.5"/></clipPath><clipPath id="cL"><rect x="421" y="333.4" width="170" height="120"/></clipPath></defs>
<g clip-path="url(#cU)">
<rect x="509.7" y="314.79" width="15" height="121.11" fill="#ececec" stroke="#111111" stroke-width="1.7"/>
<line x1="517.2" y1="290.09" x2="517.2" y2="321.7" stroke="#111111" stroke-width="1.6"/>
<line x1="512.6" y1="290.09" x2="521.8" y2="290.09" stroke="#111111" stroke-width="1.6"/>
<line x1="512.6" y1="321.7" x2="521.8" y2="321.7" stroke="#111111" stroke-width="1.6"/>
<circle cx="517.2" cy="286.57" r="2.7" fill="#111111"/>
<polygon points="517.2,317.82 514.63,322.82 519.77,322.82" fill="#111111"/>
</g>
<g clip-path="url(#cL)">
<rect x="509.7" y="314.79" width="15" height="121.11" fill="#ececec" stroke="#111111" stroke-width="1.7"/>
<line x1="517.2" y1="290.09" x2="517.2" y2="321.7" stroke="#111111" stroke-width="1.6"/>
<line x1="512.6" y1="290.09" x2="521.8" y2="290.09" stroke="#111111" stroke-width="1.6"/>
<line x1="512.6" y1="321.7" x2="521.8" y2="321.7" stroke="#111111" stroke-width="1.6"/>
<circle cx="517.2" cy="286.57" r="2.7" fill="#111111"/>
<polygon points="517.2,317.82 514.63,322.82 519.77,322.82" fill="#111111"/>
</g>
<rect x="532.4" y="395.9" width="15" height="40" fill="#f1f4ec" stroke="#6f9236" stroke-width="1.7"/>
<rect x="555" y="434.15" width="15" height="1.75" fill="#f3f1f7" stroke="#62498a" stroke-width="1.7"/>
<line x1="434.5" y1="422.76" x2="434.5" y2="430.35" stroke="#111111" stroke-width="1.6"/>
<line x1="429.9" y1="422.76" x2="439.1" y2="422.76" stroke="#111111" stroke-width="1.6"/>
<line x1="429.9" y1="430.35" x2="439.1" y2="430.35" stroke="#111111" stroke-width="1.6"/>
<circle cx="434.5" cy="421.59" r="2.7" fill="#111111"/>
<rect x="428.5" y="431.71" width="4" height="4" fill="#111111"/>
<polygon points="438.5,431.51 436.41,435.58 440.59,435.58" fill="#111111"/>
<line x1="457" y1="354.14" x2="457" y2="435.9" stroke="#6f9236" stroke-width="1.6"/>
<line x1="452.4" y1="354.14" x2="461.6" y2="354.14" stroke="#6f9236" stroke-width="1.6"/>
<line x1="452.4" y1="435.9" x2="461.6" y2="435.9" stroke="#6f9236" stroke-width="1.6"/>
<circle cx="457" cy="348.01" r="2.8" fill="#6f9236"/>
<circle cx="457" cy="417.8" r="2.8" fill="#6f9236"/>
<circle cx="457" cy="429.77" r="2.8" fill="#6f9236"/>
<line x1="539.9" y1="376.48" x2="539.9" y2="414.88" stroke="#6f9236" stroke-width="1.6"/>
<line x1="535.3" y1="376.48" x2="544.5" y2="376.48" stroke="#6f9236" stroke-width="1.6"/>
<line x1="535.3" y1="414.88" x2="544.5" y2="414.88" stroke="#6f9236" stroke-width="1.6"/>
<circle cx="539.9" cy="374.58" r="2.8" fill="#6f9236"/>
<circle cx="539.9" cy="401.74" r="2.8" fill="#6f9236"/>
<circle cx="539.9" cy="411.37" r="2.8" fill="#6f9236"/>
<defs><clipPath id="cA"><rect x="420" y="380" width="160" height="55.9"/></clipPath></defs>
<g clip-path="url(#cA)">
<circle cx="474.2" cy="435.6" r="2.7" fill="#62498a"/>
<circle cx="479.4" cy="435.6" r="2.7" fill="#62498a"/>
<circle cx="484.8" cy="435.6" r="2.7" fill="#62498a"/>
<circle cx="558" cy="435" r="2.7" fill="#62498a"/>
<circle cx="562.5" cy="433" r="2.7" fill="#62498a"/>
<circle cx="567" cy="435" r="2.7" fill="#62498a"/>
<path d="M555 436 L560.5 431.5 L562.5 430.2 L564.5 431.5 L570 436 Z" fill="#62498a"/>
</g>
<line x1="419.4" y1="435.9" x2="578.5" y2="435.9" stroke="#111111" stroke-width="1.7"/>
<line x1="516.3" y1="274.7" x2="540.6" y2="274.7" stroke="#111111" stroke-width="1.7"/>
<line x1="516.3" y1="257.5" x2="562.9" y2="257.5" stroke="#111111" stroke-width="1.7"/>
<path d="M525.2 263.05L525.2 268.15M522.99 264.33L527.41 266.88M527.41 264.33L522.99 266.88M531.8 263.05L531.8 268.15M529.59 264.33L534.01 266.88M534.01 264.33L529.59 266.88" stroke="#111111" stroke-width="1.4" stroke-linecap="butt"/>
<path d="M536.6 246.35L536.6 251.45M534.39 247.62L538.81 250.18M538.81 247.62L534.39 250.18M543.2 246.35L543.2 251.45M540.99 247.62L545.41 250.18M545.41 247.62L540.99 250.18" stroke="#111111" stroke-width="1.4" stroke-linecap="butt"/>
<rect x="574.1" y="319.3" width="15.8" height="4.6" fill="#eef0f6" stroke="#111111" stroke-width="1.7"/>
<text x="596.2" y="325.6" font-size="11" text-anchor="start" fill="#111111" stroke="#111111" stroke-width="0.22">PBS</text>
<rect x="574.1" y="331.3" width="15.8" height="4.6" fill="#eef0f6" stroke="#6f9236" stroke-width="1.7"/>
<text x="596.2" y="337.6" font-size="11" text-anchor="start" fill="#111111" stroke="#111111" stroke-width="0.22">38-3-loop-BsAb</text>
<rect x="574.1" y="343" width="15.8" height="4.6" fill="#eef0f6" stroke="#62498a" stroke-width="1.7"/>
<text x="596.2" y="349.3" font-size="11" text-anchor="start" fill="#111111" stroke="#111111" stroke-width="0.22">38-3-loopFc-BsAb</text>
<text x="1.5" y="515.8" font-size="21.7" text-anchor="start" fill="#111111" stroke="#111111" stroke-width="0.22">D</text>
<text x="196.1" y="536.2" font-size="13.3" text-anchor="middle" fill="#111111" stroke="#111111" stroke-width="0.22">Cytokine</text>
<line x1="68.9" y1="556.8" x2="68.9" y2="600.3" stroke="#111111" stroke-width="1.7"/>
<line x1="68.9" y1="611.9" x2="68.9" y2="714.9" stroke="#111111" stroke-width="1.7"/>
<line x1="65.3" y1="600.2" x2="73.2" y2="600.2" stroke="#111111" stroke-width="1.7"/>
<line x1="65.3" y1="612" x2="73.2" y2="612" stroke="#111111" stroke-width="1.7"/>
<line x1="62.4" y1="557.4" x2="68.9" y2="557.4" stroke="#111111" stroke-width="1.5"/>
<text x="61.1" y="561.4" font-size="11" text-anchor="end" fill="#111111" stroke="#111111" stroke-width="0.22">300</text>
<line x1="62.4" y1="578.8" x2="68.9" y2="578.8" stroke="#111111" stroke-width="1.5"/>
<text x="61.1" y="582.8" font-size="11" text-anchor="end" fill="#111111" stroke="#111111" stroke-width="0.22">200</text>
<line x1="62.4" y1="600.2" x2="68.9" y2="600.2" stroke="#111111" stroke-width="1.5"/>
<text x="61.1" y="604.2" font-size="11" text-anchor="end" fill="#111111" stroke="#111111" stroke-width="0.22">100</text>
<line x1="62.4" y1="624.1" x2="68.9" y2="624.1" stroke="#111111" stroke-width="1.5"/>
<text x="61.1" y="628.1" font-size="11" text-anchor="end" fill="#111111" stroke="#111111" stroke-width="0.22">80</text>
<line x1="62.4" y1="646.6" x2="68.9" y2="646.6" stroke="#111111" stroke-width="1.5"/>
<text x="61.1" y="650.6" font-size="11" text-anchor="end" fill="#111111" stroke="#111111" stroke-width="0.22">60</text>
<line x1="62.4" y1="669.1" x2="68.9" y2="669.1" stroke="#111111" stroke-width="1.5"/>
<text x="61.1" y="673.1" font-size="11" text-anchor="end" fill="#111111" stroke="#111111" stroke-width="0.22">40</text>
<line x1="62.4" y1="691.6" x2="68.9" y2="691.6" stroke="#111111" stroke-width="1.5"/>
<text x="61.1" y="695.6" font-size="11" text-anchor="end" fill="#111111" stroke="#111111" stroke-width="0.22">20</text>
<line x1="62.4" y1="714.1" x2="68.9" y2="714.1" stroke="#111111" stroke-width="1.5"/>
<text x="61.1" y="718.1" font-size="11" text-anchor="end" fill="#111111" stroke="#111111" stroke-width="0.22">0</text>
<line x1="62.4" y1="714.1" x2="321.8" y2="714.1" stroke="#111111" stroke-width="1.7"/>
<line x1="84.6" y1="714.1" x2="84.6" y2="720.1" stroke="#111111" stroke-width="1.7"/>
<text x="84.6" y="732.6" font-size="11" text-anchor="middle" fill="#111111" stroke="#111111" stroke-width="0.22">D1</text>
<line x1="116.26" y1="714.1" x2="116.26" y2="720.1" stroke="#111111" stroke-width="1.7"/>
<text x="116.26" y="732.6" font-size="11" text-anchor="middle" fill="#111111" stroke="#111111" stroke-width="0.22">D3</text>
<line x1="147.92" y1="714.1" x2="147.92" y2="720.1" stroke="#111111" stroke-width="1.7"/>
<text x="147.92" y="732.6" font-size="11" text-anchor="middle" fill="#111111" stroke="#111111" stroke-width="0.22">D5</text>
<line x1="179.58" y1="714.1" x2="179.58" y2="720.1" stroke="#111111" stroke-width="1.7"/>
<text x="179.58" y="732.6" font-size="11" text-anchor="middle" fill="#111111" stroke="#111111" stroke-width="0.22">D7</text>
<line x1="211.24" y1="714.1" x2="211.24" y2="720.1" stroke="#111111" stroke-width="1.7"/>
<text x="211.24" y="732.6" font-size="11" text-anchor="middle" fill="#111111" stroke="#111111" stroke-width="0.22">D9</text>
<line x1="242.9" y1="714.1" x2="242.9" y2="720.1" stroke="#111111" stroke-width="1.7"/>
<text x="242.9" y="732.6" font-size="11" text-anchor="middle" fill="#111111" stroke="#111111" stroke-width="0.22">D11</text>
<line x1="274.56" y1="714.1" x2="274.56" y2="720.1" stroke="#111111" stroke-width="1.7"/>
<text x="274.56" y="732.6" font-size="11" text-anchor="middle" fill="#111111" stroke="#111111" stroke-width="0.22">D13</text>
<line x1="306.22" y1="714.1" x2="306.22" y2="720.1" stroke="#111111" stroke-width="1.7"/>
<text x="306.22" y="732.6" font-size="11" text-anchor="middle" fill="#111111" stroke="#111111" stroke-width="0.22">D15</text>
<text x="36.1" y="636.7" font-size="11.35" text-anchor="middle" fill="#111111" stroke="#111111" stroke-width="0.22" transform="rotate(-90 36.1 636.7)">IFN-γ (pg/mL)</text>
<defs><clipPath id="dU"><rect x="70" y="540" width="260" height="60.4"/></clipPath><clipPath id="dL"><rect x="70" y="611.9" width="260" height="103"/></clipPath></defs>
<g clip-path="url(#dU)">
<line x1="116.26" y1="641.54" x2="116.26" y2="647.73" stroke="#62498a" stroke-width="1.5"/>
<line x1="113.86" y1="641.54" x2="118.66" y2="641.54" stroke="#62498a" stroke-width="1.5"/>
<line x1="113.86" y1="647.73" x2="118.66" y2="647.73" stroke="#62498a" stroke-width="1.5"/>
<line x1="179.58" y1="694.98" x2="179.58" y2="704.2" stroke="#62498a" stroke-width="1.5"/>
<line x1="177.18" y1="694.98" x2="181.98" y2="694.98" stroke="#62498a" stroke-width="1.5"/>
<line x1="177.18" y1="704.2" x2="181.98" y2="704.2" stroke="#62498a" stroke-width="1.5"/>
<line x1="211.24" y1="696.1" x2="211.24" y2="703.3" stroke="#62498a" stroke-width="1.5"/>
<line x1="208.84" y1="696.1" x2="213.64" y2="696.1" stroke="#62498a" stroke-width="1.5"/>
<line x1="208.84" y1="703.3" x2="213.64" y2="703.3" stroke="#62498a" stroke-width="1.5"/>
<line x1="306.22" y1="696.1" x2="306.22" y2="701.95" stroke="#62498a" stroke-width="1.5"/>
<line x1="303.82" y1="696.1" x2="308.62" y2="696.1" stroke="#62498a" stroke-width="1.5"/>
<line x1="303.82" y1="701.95" x2="308.62" y2="701.95" stroke="#62498a" stroke-width="1.5"/>
<line x1="84.6" y1="679.9" x2="84.6" y2="697.79" stroke="#6f9236" stroke-width="1.5"/>
<line x1="82.2" y1="679.9" x2="87" y2="679.9" stroke="#6f9236" stroke-width="1.5"/>
<line x1="82.2" y1="697.79" x2="87" y2="697.79" stroke="#6f9236" stroke-width="1.5"/>
<line x1="116.26" y1="623.76" x2="116.26" y2="695.2" stroke="#6f9236" stroke-width="1.5"/>
<line x1="113.86" y1="623.76" x2="118.66" y2="623.76" stroke="#6f9236" stroke-width="1.5"/>
<line x1="113.86" y1="695.2" x2="118.66" y2="695.2" stroke="#6f9236" stroke-width="1.5"/>
<line x1="147.92" y1="686.43" x2="147.92" y2="695.54" stroke="#6f9236" stroke-width="1.5"/>
<line x1="145.52" y1="686.43" x2="150.32" y2="686.43" stroke="#6f9236" stroke-width="1.5"/>
<line x1="145.52" y1="695.54" x2="150.32" y2="695.54" stroke="#6f9236" stroke-width="1.5"/>
<line x1="147.92" y1="696.33" x2="147.92" y2="699.25" stroke="#111111" stroke-width="1.6"/>
<line x1="145.52" y1="696.33" x2="150.32" y2="696.33" stroke="#111111" stroke-width="1.6"/>
<line x1="145.52" y1="699.25" x2="150.32" y2="699.25" stroke="#111111" stroke-width="1.6"/>
<line x1="242.9" y1="677.76" x2="242.9" y2="687.21" stroke="#111111" stroke-width="1.6"/>
<line x1="240.5" y1="677.76" x2="245.3" y2="677.76" stroke="#111111" stroke-width="1.6"/>
<line x1="240.5" y1="687.21" x2="245.3" y2="687.21" stroke="#111111" stroke-width="1.6"/>
<line x1="274.56" y1="576.23" x2="274.56" y2="591.43" stroke="#111111" stroke-width="1.6"/>
<line x1="272.16" y1="576.23" x2="276.96" y2="576.23" stroke="#111111" stroke-width="1.6"/>
<line x1="272.16" y1="591.43" x2="276.96" y2="591.43" stroke="#111111" stroke-width="1.6"/>
<line x1="306.22" y1="575.8" x2="306.22" y2="586.08" stroke="#111111" stroke-width="1.6"/>
<line x1="303.82" y1="575.8" x2="308.62" y2="575.8" stroke="#111111" stroke-width="1.6"/>
<line x1="303.82" y1="586.08" x2="308.62" y2="586.08" stroke="#111111" stroke-width="1.6"/>
<polyline points="84.6,691.83 116.26,645.48 147.92,693.18 179.58,699.48 211.24,700.6 242.9,697.79 274.56,698.35 306.22,699.25" fill="none" stroke="#62498a" stroke-width="1.6" stroke-linejoin="round"/>
<polyline points="84.6,688.79 116.26,659.88 147.92,692.39 179.58,697.56 211.24,697.56 242.9,696.77 274.56,697.56 306.22,697.56" fill="none" stroke="#6f9236" stroke-width="1.8" stroke-linejoin="round"/>
<polyline points="84.6,698.35 116.26,701.73 147.92,697.68 179.58,699.81 211.24,689.01 242.9,681.81 274.56,583.72 306.22,580.94" fill="none" stroke="#111111" stroke-width="1.8" stroke-linejoin="round"/>
<polygon points="84.6,694.33 82.22,689.7 86.97,689.7" fill="#62498a"/>
<polygon points="116.26,647.98 113.88,643.35 118.63,643.35" fill="#62498a"/>
<polygon points="147.92,695.68 145.54,691.05 150.29,691.05" fill="#62498a"/>
<polygon points="179.58,701.98 177.2,697.35 181.95,697.35" fill="#62498a"/>
<polygon points="211.24,703.1 208.87,698.48 213.62,698.48" fill="#62498a"/>
<polygon points="242.9,700.29 240.53,695.66 245.28,695.66" fill="#62498a"/>
<polygon points="274.56,700.85 272.19,696.23 276.94,696.23" fill="#62498a"/>
<polygon points="306.22,701.75 303.85,697.12 308.6,697.12" fill="#62498a"/>
<polygon points="84.6,686.29 82.22,690.91 86.97,690.91" fill="#6f9236"/>
<polygon points="116.26,657.38 113.88,662 118.63,662" fill="#6f9236"/>
<polygon points="147.92,689.89 145.54,694.51 150.29,694.51" fill="#6f9236"/>
<polygon points="179.58,695.06 177.2,699.69 181.95,699.69" fill="#6f9236"/>
<polygon points="211.24,695.06 208.87,699.69 213.62,699.69" fill="#6f9236"/>
<polygon points="242.9,694.27 240.53,698.9 245.28,698.9" fill="#6f9236"/>
<polygon points="274.56,695.06 272.19,699.69 276.94,699.69" fill="#6f9236"/>
<polygon points="306.22,695.06 303.85,699.69 308.6,699.69" fill="#6f9236"/>
<circle cx="84.6" cy="698.35" r="2.7" fill="#111111"/>
<circle cx="116.26" cy="701.73" r="2.7" fill="#111111"/>
<circle cx="147.92" cy="697.68" r="2.7" fill="#111111"/>
<circle cx="179.58" cy="699.81" r="2.7" fill="#111111"/>
<circle cx="211.24" cy="689.01" r="2.7" fill="#111111"/>
<circle cx="242.9" cy="681.81" r="2.7" fill="#111111"/>
<circle cx="274.56" cy="583.72" r="2.7" fill="#111111"/>
<circle cx="306.22" cy="580.94" r="2.7" fill="#111111"/>
</g>
<g clip-path="url(#dL)">
<line x1="116.26" y1="641.54" x2="116.26" y2="647.73" stroke="#62498a" stroke-width="1.5"/>
<line x1="113.86" y1="641.54" x2="118.66" y2="641.54" stroke="#62498a" stroke-width="1.5"/>
<line x1="113.86" y1="647.73" x2="118.66" y2="647.73" stroke="#62498a" stroke-width="1.5"/>
<line x1="179.58" y1="694.98" x2="179.58" y2="704.2" stroke="#62498a" stroke-width="1.5"/>
<line x1="177.18" y1="694.98" x2="181.98" y2="694.98" stroke="#62498a" stroke-width="1.5"/>
<line x1="177.18" y1="704.2" x2="181.98" y2="704.2" stroke="#62498a" stroke-width="1.5"/>
<line x1="211.24" y1="696.1" x2="211.24" y2="703.3" stroke="#62498a" stroke-width="1.5"/>
<line x1="208.84" y1="696.1" x2="213.64" y2="696.1" stroke="#62498a" stroke-width="1.5"/>
<line x1="208.84" y1="703.3" x2="213.64" y2="703.3" stroke="#62498a" stroke-width="1.5"/>
<line x1="306.22" y1="696.1" x2="306.22" y2="701.95" stroke="#62498a" stroke-width="1.5"/>
<line x1="303.82" y1="696.1" x2="308.62" y2="696.1" stroke="#62498a" stroke-width="1.5"/>
<line x1="303.82" y1="701.95" x2="308.62" y2="701.95" stroke="#62498a" stroke-width="1.5"/>
<line x1="84.6" y1="679.9" x2="84.6" y2="697.79" stroke="#6f9236" stroke-width="1.5"/>
<line x1="82.2" y1="679.9" x2="87" y2="679.9" stroke="#6f9236" stroke-width="1.5"/>
<line x1="82.2" y1="697.79" x2="87" y2="697.79" stroke="#6f9236" stroke-width="1.5"/>
<line x1="116.26" y1="623.76" x2="116.26" y2="695.2" stroke="#6f9236" stroke-width="1.5"/>
<line x1="113.86" y1="623.76" x2="118.66" y2="623.76" stroke="#6f9236" stroke-width="1.5"/>
<line x1="113.86" y1="695.2" x2="118.66" y2="695.2" stroke="#6f9236" stroke-width="1.5"/>
<line x1="147.92" y1="686.43" x2="147.92" y2="695.54" stroke="#6f9236" stroke-width="1.5"/>
<line x1="145.52" y1="686.43" x2="150.32" y2="686.43" stroke="#6f9236" stroke-width="1.5"/>
<line x1="145.52" y1="695.54" x2="150.32" y2="695.54" stroke="#6f9236" stroke-width="1.5"/>
<line x1="147.92" y1="696.33" x2="147.92" y2="699.25" stroke="#111111" stroke-width="1.6"/>
<line x1="145.52" y1="696.33" x2="150.32" y2="696.33" stroke="#111111" stroke-width="1.6"/>
<line x1="145.52" y1="699.25" x2="150.32" y2="699.25" stroke="#111111" stroke-width="1.6"/>
<line x1="242.9" y1="677.76" x2="242.9" y2="687.21" stroke="#111111" stroke-width="1.6"/>
<line x1="240.5" y1="677.76" x2="245.3" y2="677.76" stroke="#111111" stroke-width="1.6"/>
<line x1="240.5" y1="687.21" x2="245.3" y2="687.21" stroke="#111111" stroke-width="1.6"/>
<line x1="274.56" y1="576.23" x2="274.56" y2="591.43" stroke="#111111" stroke-width="1.6"/>
<line x1="272.16" y1="576.23" x2="276.96" y2="576.23" stroke="#111111" stroke-width="1.6"/>
<line x1="272.16" y1="591.43" x2="276.96" y2="591.43" stroke="#111111" stroke-width="1.6"/>
<line x1="306.22" y1="575.8" x2="306.22" y2="586.08" stroke="#111111" stroke-width="1.6"/>
<line x1="303.82" y1="575.8" x2="308.62" y2="575.8" stroke="#111111" stroke-width="1.6"/>
<line x1="303.82" y1="586.08" x2="308.62" y2="586.08" stroke="#111111" stroke-width="1.6"/>
<polyline points="84.6,691.83 116.26,645.48 147.92,693.18 179.58,699.48 211.24,700.6 242.9,697.79 274.56,698.35 306.22,699.25" fill="none" stroke="#62498a" stroke-width="1.6" stroke-linejoin="round"/>
<polyline points="84.6,688.79 116.26,659.88 147.92,692.39 179.58,697.56 211.24,697.56 242.9,696.77 274.56,697.56 306.22,697.56" fill="none" stroke="#6f9236" stroke-width="1.8" stroke-linejoin="round"/>
<polyline points="84.6,698.35 116.26,701.73 147.92,697.68 179.58,699.81 211.24,689.01 242.9,681.81 274.56,583.72 306.22,580.94" fill="none" stroke="#111111" stroke-width="1.8" stroke-linejoin="round"/>
<polygon points="84.6,694.33 82.22,689.7 86.97,689.7" fill="#62498a"/>
<polygon points="116.26,647.98 113.88,643.35 118.63,643.35" fill="#62498a"/>
<polygon points="147.92,695.68 145.54,691.05 150.29,691.05" fill="#62498a"/>
<polygon points="179.58,701.98 177.2,697.35 181.95,697.35" fill="#62498a"/>
<polygon points="211.24,703.1 208.87,698.48 213.62,698.48" fill="#62498a"/>
<polygon points="242.9,700.29 240.53,695.66 245.28,695.66" fill="#62498a"/>
<polygon points="274.56,700.85 272.19,696.23 276.94,696.23" fill="#62498a"/>
<polygon points="306.22,701.75 303.85,697.12 308.6,697.12" fill="#62498a"/>
<polygon points="84.6,686.29 82.22,690.91 86.97,690.91" fill="#6f9236"/>
<polygon points="116.26,657.38 113.88,662 118.63,662" fill="#6f9236"/>
<polygon points="147.92,689.89 145.54,694.51 150.29,694.51" fill="#6f9236"/>
<polygon points="179.58,695.06 177.2,699.69 181.95,699.69" fill="#6f9236"/>
<polygon points="211.24,695.06 208.87,699.69 213.62,699.69" fill="#6f9236"/>
<polygon points="242.9,694.27 240.53,698.9 245.28,698.9" fill="#6f9236"/>
<polygon points="274.56,695.06 272.19,699.69 276.94,699.69" fill="#6f9236"/>
<polygon points="306.22,695.06 303.85,699.69 308.6,699.69" fill="#6f9236"/>
<circle cx="84.6" cy="698.35" r="2.7" fill="#111111"/>
<circle cx="116.26" cy="701.73" r="2.7" fill="#111111"/>
<circle cx="147.92" cy="697.68" r="2.7" fill="#111111"/>
<circle cx="179.58" cy="699.81" r="2.7" fill="#111111"/>
<circle cx="211.24" cy="689.01" r="2.7" fill="#111111"/>
<circle cx="242.9" cy="681.81" r="2.7" fill="#111111"/>
<circle cx="274.56" cy="583.72" r="2.7" fill="#111111"/>
<circle cx="306.22" cy="580.94" r="2.7" fill="#111111"/>
</g>
<line x1="58.2" y1="747.5" x2="75.6" y2="747.5" stroke="#111111" stroke-width="1.6"/>
<circle cx="66.9" cy="747.5" r="2.7" fill="#111111"/>
<line x1="58.2" y1="758.9" x2="75.6" y2="758.9" stroke="#6f9236" stroke-width="1.6"/>
<polygon points="66.9,756.2 64.34,761.19 69.47,761.19" fill="#6f9236"/>
<line x1="58.2" y1="769.9" x2="75.6" y2="769.9" stroke="#62498a" stroke-width="1.6"/>
<polygon points="66.9,772.6 64.34,767.61 69.47,767.61" fill="#62498a"/>
<text x="85.5" y="751.5" font-size="11" text-anchor="start" fill="#111111" stroke="#111111" stroke-width="0.22">PBS</text>
<text x="85.5" y="762.9" font-size="11" text-anchor="start" fill="#111111" stroke="#111111" stroke-width="0.22">38-3-loop-BsAb</text>
<text x="85.5" y="773.9" font-size="11" text-anchor="start" fill="#111111" stroke="#111111" stroke-width="0.22">38-3-loopFc-BsAb</text>
<line x1="189.4" y1="739.2" x2="189.4" y2="772.7" stroke="#111111" stroke-width="1.6"/>
<path d="M195.6 754.85L195.6 759.95M193.39 756.12L197.81 758.67M197.81 756.12L193.39 758.67M202.2 754.85L202.2 759.95M199.99 756.12L204.41 758.67M204.41 756.12L199.99 758.67" stroke="#111111" stroke-width="1.4" stroke-linecap="butt"/>
<line x1="217.9" y1="739.2" x2="217.9" y2="772.7" stroke="#111111" stroke-width="1.6"/>
<path d="M223.4 754.85L223.4 759.95M221.19 756.12L225.61 758.67M225.61 756.12L221.19 758.67M230 754.85L230 759.95M227.79 756.12L232.21 758.67M232.21 756.12L227.79 758.67M236.6 754.85L236.6 759.95M234.39 756.12L238.81 758.67M238.81 756.12L234.39 758.67" stroke="#111111" stroke-width="1.4" stroke-linecap="butt"/>
<line x1="255.5" y1="739.2" x2="255.5" y2="756.7" stroke="#111111" stroke-width="1.6"/>
<path d="M261.5 746.75L261.5 751.85M259.29 748.02L263.71 750.57M263.71 748.02L259.29 750.57" stroke="#111111" stroke-width="1.4" stroke-linecap="butt"/>
<line x1="267.1" y1="739.2" x2="267.1" y2="772.7" stroke="#111111" stroke-width="1.6"/>
<path d="M273.3 754.85L273.3 759.95M271.09 756.12L275.51 758.67M275.51 756.12L271.09 758.67" stroke="#111111" stroke-width="1.4" stroke-linecap="butt"/>
<line x1="300" y1="739.2" x2="300" y2="756.7" stroke="#111111" stroke-width="1.6"/>
<path d="M305.5 746.75L305.5 751.85M303.29 748.02L307.71 750.57M307.71 748.02L303.29 750.57" stroke="#111111" stroke-width="1.4" stroke-linecap="butt"/>
<line x1="311.8" y1="739.2" x2="311.8" y2="772.7" stroke="#111111" stroke-width="1.6"/>
<path d="M317.7 754.85L317.7 759.95M315.49 756.12L319.91 758.67M319.91 756.12L315.49 758.67" stroke="#111111" stroke-width="1.4" stroke-linecap="butt"/>
<text x="189.2" y="787.4" font-size="11" text-anchor="middle" fill="#111111" stroke="#111111" stroke-width="0.22">D1</text>
<text x="218.5" y="787.4" font-size="11" text-anchor="middle" fill="#111111" stroke="#111111" stroke-width="0.22">D3</text>
<text x="263.6" y="787.4" font-size="11" text-anchor="middle" fill="#111111" stroke="#111111" stroke-width="0.22">D9</text>
<text x="309.8" y="787.4" font-size="11" text-anchor="middle" fill="#111111" stroke="#111111" stroke-width="0.22">D13</text>
<text x="392.3" y="515.8" font-size="21.7" text-anchor="start" fill="#111111" stroke="#111111" stroke-width="0.22">E</text>
<text x="546.5" y="536.2" font-size="13.3" text-anchor="middle" fill="#111111" stroke="#111111" stroke-width="0.22">Cytokine</text>
<line x1="419.2" y1="556.3" x2="419.2" y2="715.1" stroke="#111111" stroke-width="1.7"/>
<line x1="412.7" y1="557.05" x2="419.2" y2="557.05" stroke="#111111" stroke-width="1.5"/>
<text x="411.4" y="561.05" font-size="11" text-anchor="end" fill="#111111" stroke="#111111" stroke-width="0.22">50</text>
<line x1="412.7" y1="588.5" x2="419.2" y2="588.5" stroke="#111111" stroke-width="1.5"/>
<text x="411.4" y="592.5" font-size="11" text-anchor="end" fill="#111111" stroke="#111111" stroke-width="0.22">40</text>
<line x1="412.7" y1="619.95" x2="419.2" y2="619.95" stroke="#111111" stroke-width="1.5"/>
<text x="411.4" y="623.95" font-size="11" text-anchor="end" fill="#111111" stroke="#111111" stroke-width="0.22">30</text>
<line x1="412.7" y1="651.4" x2="419.2" y2="651.4" stroke="#111111" stroke-width="1.5"/>
<text x="411.4" y="655.4" font-size="11" text-anchor="end" fill="#111111" stroke="#111111" stroke-width="0.22">20</text>
<line x1="412.7" y1="682.85" x2="419.2" y2="682.85" stroke="#111111" stroke-width="1.5"/>
<text x="411.4" y="686.85" font-size="11" text-anchor="end" fill="#111111" stroke="#111111" stroke-width="0.22">10</text>
<line x1="412.7" y1="714.3" x2="419.2" y2="714.3" stroke="#111111" stroke-width="1.5"/>
<text x="411.4" y="718.3" font-size="11" text-anchor="end" fill="#111111" stroke="#111111" stroke-width="0.22">0</text>
<line x1="412.7" y1="714.3" x2="672.6" y2="714.3" stroke="#111111" stroke-width="1.7"/>
<line x1="435" y1="714.3" x2="435" y2="720.3" stroke="#111111" stroke-width="1.7"/>
<text x="435" y="732.8" font-size="11" text-anchor="middle" fill="#111111" stroke="#111111" stroke-width="0.22">D1</text>
<line x1="466.63" y1="714.3" x2="466.63" y2="720.3" stroke="#111111" stroke-width="1.7"/>
<text x="466.63" y="732.8" font-size="11" text-anchor="middle" fill="#111111" stroke="#111111" stroke-width="0.22">D3</text>
<line x1="498.26" y1="714.3" x2="498.26" y2="720.3" stroke="#111111" stroke-width="1.7"/>
<text x="498.26" y="732.8" font-size="11" text-anchor="middle" fill="#111111" stroke="#111111" stroke-width="0.22">D5</text>
<line x1="529.89" y1="714.3" x2="529.89" y2="720.3" stroke="#111111" stroke-width="1.7"/>
<text x="529.89" y="732.8" font-size="11" text-anchor="middle" fill="#111111" stroke="#111111" stroke-width="0.22">D7</text>
<line x1="561.52" y1="714.3" x2="561.52" y2="720.3" stroke="#111111" stroke-width="1.7"/>
<text x="561.52" y="732.8" font-size="11" text-anchor="middle" fill="#111111" stroke="#111111" stroke-width="0.22">D9</text>
<line x1="593.15" y1="714.3" x2="593.15" y2="720.3" stroke="#111111" stroke-width="1.7"/>
<text x="593.15" y="732.8" font-size="11" text-anchor="middle" fill="#111111" stroke="#111111" stroke-width="0.22">D11</text>
<line x1="624.78" y1="714.3" x2="624.78" y2="720.3" stroke="#111111" stroke-width="1.7"/>
<text x="624.78" y="732.8" font-size="11" text-anchor="middle" fill="#111111" stroke="#111111" stroke-width="0.22">D13</text>
<line x1="656.41" y1="714.3" x2="656.41" y2="720.3" stroke="#111111" stroke-width="1.7"/>
<text x="656.41" y="732.8" font-size="11" text-anchor="middle" fill="#111111" stroke="#111111" stroke-width="0.22">D15</text>
<text x="393.2" y="636" font-size="11.25" text-anchor="middle" fill="#111111" stroke="#111111" stroke-width="0.22" transform="rotate(-90 393.2 636)">IL10 (pg/mL)</text>
<line x1="435" y1="623.72" x2="435" y2="633.16" stroke="#62498a" stroke-width="1.5"/>
<line x1="432.6" y1="623.72" x2="437.4" y2="623.72" stroke="#62498a" stroke-width="1.5"/>
<line x1="432.6" y1="633.16" x2="437.4" y2="633.16" stroke="#62498a" stroke-width="1.5"/>
<line x1="529.89" y1="637.56" x2="529.89" y2="675.93" stroke="#62498a" stroke-width="1.5"/>
<line x1="527.49" y1="637.56" x2="532.29" y2="637.56" stroke="#62498a" stroke-width="1.5"/>
<line x1="527.49" y1="675.93" x2="532.29" y2="675.93" stroke="#62498a" stroke-width="1.5"/>
<line x1="561.52" y1="651.71" x2="561.52" y2="669.96" stroke="#62498a" stroke-width="1.5"/>
<line x1="559.12" y1="651.71" x2="563.92" y2="651.71" stroke="#62498a" stroke-width="1.5"/>
<line x1="559.12" y1="669.96" x2="563.92" y2="669.96" stroke="#62498a" stroke-width="1.5"/>
<line x1="593.15" y1="648.88" x2="593.15" y2="652.97" stroke="#62498a" stroke-width="1.5"/>
<line x1="590.75" y1="648.88" x2="595.55" y2="648.88" stroke="#62498a" stroke-width="1.5"/>
<line x1="590.75" y1="652.97" x2="595.55" y2="652.97" stroke="#62498a" stroke-width="1.5"/>
<line x1="656.41" y1="652.97" x2="656.41" y2="659.26" stroke="#62498a" stroke-width="1.5"/>
<line x1="654.01" y1="652.97" x2="658.81" y2="652.97" stroke="#62498a" stroke-width="1.5"/>
<line x1="654.01" y1="659.26" x2="658.81" y2="659.26" stroke="#62498a" stroke-width="1.5"/>
<line x1="435" y1="580.64" x2="435" y2="640.39" stroke="#6f9236" stroke-width="1.5"/>
<line x1="432.6" y1="580.64" x2="437.4" y2="580.64" stroke="#6f9236" stroke-width="1.5"/>
<line x1="432.6" y1="640.39" x2="437.4" y2="640.39" stroke="#6f9236" stroke-width="1.5"/>
<line x1="466.63" y1="654.54" x2="466.63" y2="660.83" stroke="#6f9236" stroke-width="1.5"/>
<line x1="464.23" y1="654.54" x2="469.03" y2="654.54" stroke="#6f9236" stroke-width="1.5"/>
<line x1="464.23" y1="660.83" x2="469.03" y2="660.83" stroke="#6f9236" stroke-width="1.5"/>
<line x1="624.78" y1="656.43" x2="624.78" y2="659.89" stroke="#6f9236" stroke-width="1.5"/>
<line x1="622.38" y1="656.43" x2="627.18" y2="656.43" stroke="#6f9236" stroke-width="1.5"/>
<line x1="622.38" y1="659.89" x2="627.18" y2="659.89" stroke="#6f9236" stroke-width="1.5"/>
<line x1="656.41" y1="653.29" x2="656.41" y2="665.55" stroke="#6f9236" stroke-width="1.5"/>
<line x1="654.01" y1="653.29" x2="658.81" y2="653.29" stroke="#6f9236" stroke-width="1.5"/>
<line x1="654.01" y1="665.55" x2="658.81" y2="665.55" stroke="#6f9236" stroke-width="1.5"/>
<line x1="435" y1="645.11" x2="435" y2="653.6" stroke="#111111" stroke-width="1.6"/>
<line x1="432.6" y1="645.11" x2="437.4" y2="645.11" stroke="#111111" stroke-width="1.6"/>
<line x1="432.6" y1="653.6" x2="437.4" y2="653.6" stroke="#111111" stroke-width="1.6"/>
<line x1="466.63" y1="656.75" x2="466.63" y2="676.56" stroke="#111111" stroke-width="1.6"/>
<line x1="464.23" y1="656.75" x2="469.03" y2="656.75" stroke="#111111" stroke-width="1.6"/>
<line x1="464.23" y1="676.56" x2="469.03" y2="676.56" stroke="#111111" stroke-width="1.6"/>
<line x1="498.26" y1="636.3" x2="498.26" y2="662.41" stroke="#111111" stroke-width="1.6"/>
<line x1="495.86" y1="636.3" x2="500.66" y2="636.3" stroke="#111111" stroke-width="1.6"/>
<line x1="495.86" y1="662.41" x2="500.66" y2="662.41" stroke="#111111" stroke-width="1.6"/>
<line x1="529.89" y1="645.74" x2="529.89" y2="662.09" stroke="#111111" stroke-width="1.6"/>
<line x1="527.49" y1="645.74" x2="532.29" y2="645.74" stroke="#111111" stroke-width="1.6"/>
<line x1="527.49" y1="662.09" x2="532.29" y2="662.09" stroke="#111111" stroke-width="1.6"/>
<line x1="593.15" y1="634.1" x2="593.15" y2="672.16" stroke="#111111" stroke-width="1.6"/>
<line x1="590.75" y1="634.1" x2="595.55" y2="634.1" stroke="#111111" stroke-width="1.6"/>
<line x1="590.75" y1="672.16" x2="595.55" y2="672.16" stroke="#111111" stroke-width="1.6"/>
<line x1="624.78" y1="649.2" x2="624.78" y2="654.54" stroke="#111111" stroke-width="1.6"/>
<line x1="622.38" y1="649.2" x2="627.18" y2="649.2" stroke="#111111" stroke-width="1.6"/>
<line x1="622.38" y1="654.54" x2="627.18" y2="654.54" stroke="#111111" stroke-width="1.6"/>
<line x1="656.41" y1="639.76" x2="656.41" y2="652.03" stroke="#111111" stroke-width="1.6"/>
<line x1="654.01" y1="639.76" x2="658.81" y2="639.76" stroke="#111111" stroke-width="1.6"/>
<line x1="654.01" y1="652.03" x2="658.81" y2="652.03" stroke="#111111" stroke-width="1.6"/>
<polyline points="435,628.44 466.63,662.41 498.26,648.88 529.89,656.43 561.52,659.58 593.15,650.77 624.78,654.86 656.41,656.12" fill="none" stroke="#62498a" stroke-width="1.6" stroke-linejoin="round"/>
<polyline points="435,611.14 466.63,657.69 498.26,646.68 529.89,647.63 561.52,649.2 593.15,653.6 624.78,658.32 656.41,658" fill="none" stroke="#6f9236" stroke-width="1.8" stroke-linejoin="round"/>
<polyline points="435,649.2 466.63,666.5 498.26,649.2 529.89,654.23 561.52,649.2 593.15,653.6 624.78,651.71 656.41,646.05" fill="none" stroke="#111111" stroke-width="1.8" stroke-linejoin="round"/>
<polygon points="435,630.94 432.62,626.32 437.38,626.32" fill="#62498a"/>
<polygon points="466.63,664.91 464.25,660.28 469,660.28" fill="#62498a"/>
<polygon points="498.26,651.38 495.88,646.76 500.63,646.76" fill="#62498a"/>
<polygon points="529.89,658.93 527.51,654.31 532.26,654.31" fill="#62498a"/>
<polygon points="561.52,662.08 559.14,657.45 563.89,657.45" fill="#62498a"/>
<polygon points="593.15,653.27 590.77,648.65 595.52,648.65" fill="#62498a"/>
<polygon points="624.78,657.36 622.4,652.73 627.15,652.73" fill="#62498a"/>
<polygon points="656.41,658.62 654.03,653.99 658.78,653.99" fill="#62498a"/>
<polygon points="435,608.64 432.62,613.27 437.38,613.27" fill="#6f9236"/>
<polygon points="466.63,655.19 464.25,659.81 469,659.81" fill="#6f9236"/>
<polygon points="498.26,644.18 495.88,648.81 500.63,648.81" fill="#6f9236"/>
<polygon points="529.89,645.13 527.51,649.75 532.26,649.75" fill="#6f9236"/>
<polygon points="561.52,646.7 559.14,651.32 563.89,651.32" fill="#6f9236"/>
<polygon points="593.15,651.1 590.77,655.73 595.52,655.73" fill="#6f9236"/>
<polygon points="624.78,655.82 622.4,660.44 627.15,660.44" fill="#6f9236"/>
<polygon points="656.41,655.5 654.03,660.13 658.78,660.13" fill="#6f9236"/>
<circle cx="435" cy="649.2" r="2.7" fill="#111111"/>
<circle cx="466.63" cy="666.5" r="2.7" fill="#111111"/>
<circle cx="498.26" cy="649.2" r="2.7" fill="#111111"/>
<circle cx="529.89" cy="654.23" r="2.7" fill="#111111"/>
<circle cx="561.52" cy="649.2" r="2.7" fill="#111111"/>
<circle cx="593.15" cy="653.6" r="2.7" fill="#111111"/>
<circle cx="624.78" cy="651.71" r="2.7" fill="#111111"/>
<circle cx="656.41" cy="646.05" r="2.7" fill="#111111"/>
<line x1="465.3" y1="745.5" x2="482.7" y2="745.5" stroke="#111111" stroke-width="1.6"/>
<circle cx="474" cy="745.5" r="2.7" fill="#111111"/>
<line x1="465.3" y1="756.4" x2="482.7" y2="756.4" stroke="#6f9236" stroke-width="1.6"/>
<polygon points="474,753.7 471.44,758.69 476.56,758.69" fill="#6f9236"/>
<line x1="465.3" y1="767.5" x2="482.7" y2="767.5" stroke="#62498a" stroke-width="1.6"/>
<polygon points="474,770.2 471.44,765.21 476.56,765.21" fill="#62498a"/>
<text x="492.2" y="749.5" font-size="11" text-anchor="start" fill="#111111" stroke="#111111" stroke-width="0.22">PBS</text>
<text x="492.2" y="760.4" font-size="11" text-anchor="start" fill="#111111" stroke="#111111" stroke-width="0.22">38-3-loop-BsAb</text>
<text x="492.2" y="771.5" font-size="11" text-anchor="start" fill="#111111" stroke="#111111" stroke-width="0.22">38-3-loopFc-BsAb</text>
<line x1="598.7" y1="739.4" x2="598.7" y2="771.3" stroke="#111111" stroke-width="1.6"/>
<path d="M606.3 754.05L606.3 759.15M604.09 755.33L608.51 757.88M608.51 755.33L604.09 757.88M612.9 754.05L612.9 759.15M610.69 755.33L615.11 757.88M615.11 755.33L610.69 757.88" stroke="#111111" stroke-width="1.4" stroke-linecap="butt"/>
<text x="597.8" y="785" font-size="11" text-anchor="middle" fill="#111111" stroke="#111111" stroke-width="0.22">D1</text>
<text x="0.4" y="833.8" font-size="21.7" text-anchor="start" fill="#111111" stroke="#111111" stroke-width="0.22">F</text>
<text x="211.7" y="837.8" font-size="13.4" text-anchor="middle" fill="#111111" stroke="#111111" stroke-width="0.22">Tail Blood BsAbs</text>
<line x1="68" y1="855.4" x2="68" y2="1014.5" stroke="#111111" stroke-width="1.7"/>
<line x1="61.5" y1="856.1" x2="68" y2="856.1" stroke="#111111" stroke-width="1.5"/>
<text x="60.2" y="860.1" font-size="11" text-anchor="end" fill="#111111" stroke="#111111" stroke-width="0.22">20</text>
<line x1="61.5" y1="895.5" x2="68" y2="895.5" stroke="#111111" stroke-width="1.5"/>
<text x="60.2" y="899.5" font-size="11" text-anchor="end" fill="#111111" stroke="#111111" stroke-width="0.22">15</text>
<line x1="61.5" y1="934.9" x2="68" y2="934.9" stroke="#111111" stroke-width="1.5"/>
<text x="60.2" y="938.9" font-size="11" text-anchor="end" fill="#111111" stroke="#111111" stroke-width="0.22">10</text>
<line x1="61.5" y1="974.3" x2="68" y2="974.3" stroke="#111111" stroke-width="1.5"/>
<text x="60.2" y="978.3" font-size="11" text-anchor="end" fill="#111111" stroke="#111111" stroke-width="0.22">5</text>
<line x1="61.5" y1="1013.7" x2="68" y2="1013.7" stroke="#111111" stroke-width="1.5"/>
<text x="60.2" y="1017.7" font-size="11" text-anchor="end" fill="#111111" stroke="#111111" stroke-width="0.22">0</text>
<line x1="61.5" y1="1013.7" x2="383.9" y2="1013.7" stroke="#111111" stroke-width="1.7"/>
<line x1="84.6" y1="1013.7" x2="84.6" y2="1019.7" stroke="#111111" stroke-width="1.7"/>
<text x="84.6" y="1030.9" font-size="11" text-anchor="middle" fill="#111111" stroke="#111111" stroke-width="0.22">10min</text>
<line x1="113.1" y1="1013.7" x2="113.1" y2="1019.7" stroke="#111111" stroke-width="1.7"/>
<text x="113.1" y="1030.9" font-size="11" text-anchor="middle" fill="#111111" stroke="#111111" stroke-width="0.22">0.5h</text>
<line x1="141.6" y1="1013.7" x2="141.6" y2="1019.7" stroke="#111111" stroke-width="1.7"/>
<text x="141.6" y="1030.9" font-size="11" text-anchor="middle" fill="#111111" stroke="#111111" stroke-width="0.22">1h</text>
<line x1="170.1" y1="1013.7" x2="170.1" y2="1019.7" stroke="#111111" stroke-width="1.7"/>
<text x="170.1" y="1030.9" font-size="11" text-anchor="middle" fill="#111111" stroke="#111111" stroke-width="0.22">2h</text>
<line x1="198.6" y1="1013.7" x2="198.6" y2="1019.7" stroke="#111111" stroke-width="1.7"/>
<text x="198.6" y="1030.9" font-size="11" text-anchor="middle" fill="#111111" stroke="#111111" stroke-width="0.22">4h</text>
<line x1="227.1" y1="1013.7" x2="227.1" y2="1019.7" stroke="#111111" stroke-width="1.7"/>
<text x="227.1" y="1030.9" font-size="11" text-anchor="middle" fill="#111111" stroke="#111111" stroke-width="0.22">8h</text>
<line x1="255.6" y1="1013.7" x2="255.6" y2="1019.7" stroke="#111111" stroke-width="1.7"/>
<text x="255.6" y="1030.9" font-size="11" text-anchor="middle" fill="#111111" stroke="#111111" stroke-width="0.22">24h</text>
<line x1="284.1" y1="1013.7" x2="284.1" y2="1019.7" stroke="#111111" stroke-width="1.7"/>
<text x="284.1" y="1030.9" font-size="11" text-anchor="middle" fill="#111111" stroke="#111111" stroke-width="0.22">48h</text>
<line x1="312.6" y1="1013.7" x2="312.6" y2="1019.7" stroke="#111111" stroke-width="1.7"/>
<text x="312.6" y="1030.9" font-size="11" text-anchor="middle" fill="#111111" stroke="#111111" stroke-width="0.22">72h</text>
<line x1="341.1" y1="1013.7" x2="341.1" y2="1019.7" stroke="#111111" stroke-width="1.7"/>
<text x="341.1" y="1030.9" font-size="11" text-anchor="middle" fill="#111111" stroke="#111111" stroke-width="0.22">96h</text>
<line x1="369.6" y1="1013.7" x2="369.6" y2="1019.7" stroke="#111111" stroke-width="1.7"/>
<text x="369.6" y="1030.9" font-size="11" text-anchor="middle" fill="#111111" stroke="#111111" stroke-width="0.22">120h</text>
<text x="43.5" y="936.3" font-size="11.2" text-anchor="middle" fill="#111111" stroke="#111111" stroke-width="0.22" transform="rotate(-90 43.5 936.3)">Concentration (nM)</text>
<line x1="84.6" y1="860.83" x2="84.6" y2="933.32" stroke="#62498a" stroke-width="1.6"/>
<line x1="82.2" y1="860.83" x2="87" y2="860.83" stroke="#62498a" stroke-width="1.6"/>
<line x1="82.2" y1="933.32" x2="87" y2="933.32" stroke="#62498a" stroke-width="1.6"/>
<line x1="113.1" y1="928.6" x2="113.1" y2="938.05" stroke="#62498a" stroke-width="1.6"/>
<line x1="110.7" y1="928.6" x2="115.5" y2="928.6" stroke="#62498a" stroke-width="1.6"/>
<line x1="110.7" y1="938.05" x2="115.5" y2="938.05" stroke="#62498a" stroke-width="1.6"/>
<line x1="141.6" y1="904.17" x2="141.6" y2="919.93" stroke="#62498a" stroke-width="1.6"/>
<line x1="139.2" y1="904.17" x2="144" y2="904.17" stroke="#62498a" stroke-width="1.6"/>
<line x1="139.2" y1="919.93" x2="144" y2="919.93" stroke="#62498a" stroke-width="1.6"/>
<line x1="170.1" y1="913.62" x2="170.1" y2="956.18" stroke="#62498a" stroke-width="1.6"/>
<line x1="167.7" y1="913.62" x2="172.5" y2="913.62" stroke="#62498a" stroke-width="1.6"/>
<line x1="167.7" y1="956.18" x2="172.5" y2="956.18" stroke="#62498a" stroke-width="1.6"/>
<line x1="198.6" y1="941.99" x2="198.6" y2="968.78" stroke="#62498a" stroke-width="1.6"/>
<line x1="196.2" y1="941.99" x2="201" y2="941.99" stroke="#62498a" stroke-width="1.6"/>
<line x1="196.2" y1="968.78" x2="201" y2="968.78" stroke="#62498a" stroke-width="1.6"/>
<line x1="227.1" y1="947.51" x2="227.1" y2="966.42" stroke="#62498a" stroke-width="1.6"/>
<line x1="224.7" y1="947.51" x2="229.5" y2="947.51" stroke="#62498a" stroke-width="1.6"/>
<line x1="224.7" y1="966.42" x2="229.5" y2="966.42" stroke="#62498a" stroke-width="1.6"/>
<line x1="255.6" y1="971.94" x2="255.6" y2="986.91" stroke="#62498a" stroke-width="1.6"/>
<line x1="253.2" y1="971.94" x2="258" y2="971.94" stroke="#62498a" stroke-width="1.6"/>
<line x1="253.2" y1="986.91" x2="258" y2="986.91" stroke="#62498a" stroke-width="1.6"/>
<line x1="284.1" y1="990.85" x2="284.1" y2="1002.2" stroke="#62498a" stroke-width="1.6"/>
<line x1="281.7" y1="990.85" x2="286.5" y2="990.85" stroke="#62498a" stroke-width="1.6"/>
<line x1="281.7" y1="1002.2" x2="286.5" y2="1002.2" stroke="#62498a" stroke-width="1.6"/>
<line x1="84.6" y1="885.26" x2="84.6" y2="919.14" stroke="#6f9236" stroke-width="1.6"/>
<line x1="82.2" y1="885.26" x2="87" y2="885.26" stroke="#6f9236" stroke-width="1.6"/>
<line x1="82.2" y1="919.14" x2="87" y2="919.14" stroke="#6f9236" stroke-width="1.6"/>
<line x1="113.1" y1="938.84" x2="113.1" y2="960.12" stroke="#6f9236" stroke-width="1.6"/>
<line x1="110.7" y1="938.84" x2="115.5" y2="938.84" stroke="#6f9236" stroke-width="1.6"/>
<line x1="110.7" y1="960.12" x2="115.5" y2="960.12" stroke="#6f9236" stroke-width="1.6"/>
<line x1="141.6" y1="928.6" x2="141.6" y2="961.69" stroke="#6f9236" stroke-width="1.6"/>
<line x1="139.2" y1="928.6" x2="144" y2="928.6" stroke="#6f9236" stroke-width="1.6"/>
<line x1="139.2" y1="961.69" x2="144" y2="961.69" stroke="#6f9236" stroke-width="1.6"/>
<line x1="170.1" y1="944.36" x2="170.1" y2="964.84" stroke="#6f9236" stroke-width="1.6"/>
<line x1="167.7" y1="944.36" x2="172.5" y2="944.36" stroke="#6f9236" stroke-width="1.6"/>
<line x1="167.7" y1="964.84" x2="172.5" y2="964.84" stroke="#6f9236" stroke-width="1.6"/>
<line x1="198.6" y1="964.84" x2="198.6" y2="995.58" stroke="#6f9236" stroke-width="1.6"/>
<line x1="196.2" y1="964.84" x2="201" y2="964.84" stroke="#6f9236" stroke-width="1.6"/>
<line x1="196.2" y1="995.58" x2="201" y2="995.58" stroke="#6f9236" stroke-width="1.6"/>
<line x1="227.1" y1="997.15" x2="227.1" y2="1000.7" stroke="#6f9236" stroke-width="1.6"/>
<line x1="224.7" y1="997.15" x2="229.5" y2="997.15" stroke="#6f9236" stroke-width="1.6"/>
<line x1="224.7" y1="1000.7" x2="229.5" y2="1000.7" stroke="#6f9236" stroke-width="1.6"/>
<polyline points="84.6,897.86 113.1,933.32 141.6,912.05 170.1,934.9 198.6,954.6 227.1,956.57 255.6,979.03 284.1,996.68 312.6,999.28 341.1,1004.72 369.6,1004.72" fill="none" stroke="#62498a" stroke-width="1.9" stroke-linejoin="round"/>
<polyline points="84.6,901.8 113.1,949.08 141.6,945.93 170.1,955.39 198.6,980.21 227.1,998.96 255.6,1012.44 284.1,1013.31 312.6,1013.31 341.1,1013.31 369.6,1013.31" fill="none" stroke="#6f9236" stroke-width="1.9" stroke-linejoin="round"/>
<polygon points="84.6,900.56 82.03,895.57 87.16,895.57" fill="#62498a"/>
<polygon points="113.1,936.02 110.53,931.03 115.66,931.03" fill="#62498a"/>
<polygon points="141.6,914.75 139.03,909.75 144.16,909.75" fill="#62498a"/>
<polygon points="170.1,937.6 167.53,932.61 172.66,932.61" fill="#62498a"/>
<polygon points="198.6,957.3 196.03,952.31 201.16,952.31" fill="#62498a"/>
<polygon points="227.1,959.27 224.53,954.28 229.66,954.28" fill="#62498a"/>
<polygon points="255.6,981.73 253.03,976.73 258.17,976.73" fill="#62498a"/>
<polygon points="284.1,999.38 281.54,994.38 286.67,994.38" fill="#62498a"/>
<polygon points="312.6,1001.98 310.04,996.98 315.17,996.98" fill="#62498a"/>
<polygon points="341.1,1007.42 338.54,1002.42 343.67,1002.42" fill="#62498a"/>
<polygon points="369.6,1007.42 367.04,1002.42 372.17,1002.42" fill="#62498a"/>
<polygon points="84.6,899.1 82.03,904.1 87.16,904.1" fill="#6f9236"/>
<polygon points="113.1,946.38 110.53,951.38 115.66,951.38" fill="#6f9236"/>
<polygon points="141.6,943.23 139.03,948.23 144.16,948.23" fill="#6f9236"/>
<polygon points="170.1,952.69 167.53,957.68 172.66,957.68" fill="#6f9236"/>
<polygon points="198.6,977.51 196.03,982.5 201.16,982.5" fill="#6f9236"/>
<polygon points="227.1,996.26 224.53,1001.26 229.66,1001.26" fill="#6f9236"/>
<polygon points="255.6,1009.74 253.03,1014.73 258.17,1014.73" fill="#6f9236"/>
<polygon points="284.1,1010.61 281.54,1015.6 286.67,1015.6" fill="#6f9236"/>
<polygon points="312.6,1010.61 310.04,1015.6 315.17,1015.6" fill="#6f9236"/>
<polygon points="341.1,1010.61 338.54,1015.6 343.67,1015.6" fill="#6f9236"/>
<polygon points="369.6,1010.61 367.04,1015.6 372.17,1015.6" fill="#6f9236"/>
<line x1="266.1" y1="886.6" x2="282.8" y2="886.6" stroke="#6f9236" stroke-width="1.8"/>
<polygon points="274.5,883.9 271.94,888.89 277.06,888.89" fill="#6f9236"/>
<line x1="266.1" y1="898.8" x2="282.8" y2="898.8" stroke="#62498a" stroke-width="1.8"/>
<polygon points="274.5,901.5 271.94,896.5 277.06,896.5" fill="#62498a"/>
<text x="292.4" y="890.6" font-size="11" text-anchor="start" fill="#111111" stroke="#111111" stroke-width="0.22">38-3-loop-BsAb</text>
<text x="292.4" y="902.8" font-size="11" text-anchor="start" fill="#111111" stroke="#111111" stroke-width="0.22">38-3-loopFc-BsAb</text>
<line x1="132.3" y1="889.9" x2="150.8" y2="889.9" stroke="#111111" stroke-width="1.8"/>
<path d="M138.5 878.15L138.5 883.25M136.29 879.43L140.71 881.98M140.71 879.43L136.29 881.98M145.1 878.15L145.1 883.25M142.89 879.43L147.31 881.98M147.31 879.43L142.89 881.98" stroke="#111111" stroke-width="1.4" stroke-linecap="butt"/>
<line x1="216.9" y1="936.7" x2="237.2" y2="936.7" stroke="#111111" stroke-width="1.8"/>
<path d="M220.6 924.85L220.6 929.95M218.39 926.12L222.81 928.67M222.81 926.12L218.39 928.67M227.2 924.85L227.2 929.95M224.99 926.12L229.41 928.67M229.41 926.12L224.99 928.67M233.8 924.85L233.8 929.95M231.59 926.12L236.01 928.67M236.01 926.12L231.59 928.67" stroke="#111111" stroke-width="1.4" stroke-linecap="butt"/>
<line x1="247.4" y1="959.8" x2="265.7" y2="959.8" stroke="#111111" stroke-width="1.8"/>
<path d="M253.7 948.25L253.7 953.35M251.49 949.52L255.91 952.07M255.91 949.52L251.49 952.07M260.3 948.25L260.3 953.35M258.09 949.52L262.51 952.07M262.51 949.52L258.09 952.07" stroke="#111111" stroke-width="1.4" stroke-linecap="butt"/>
</svg></body></html>
